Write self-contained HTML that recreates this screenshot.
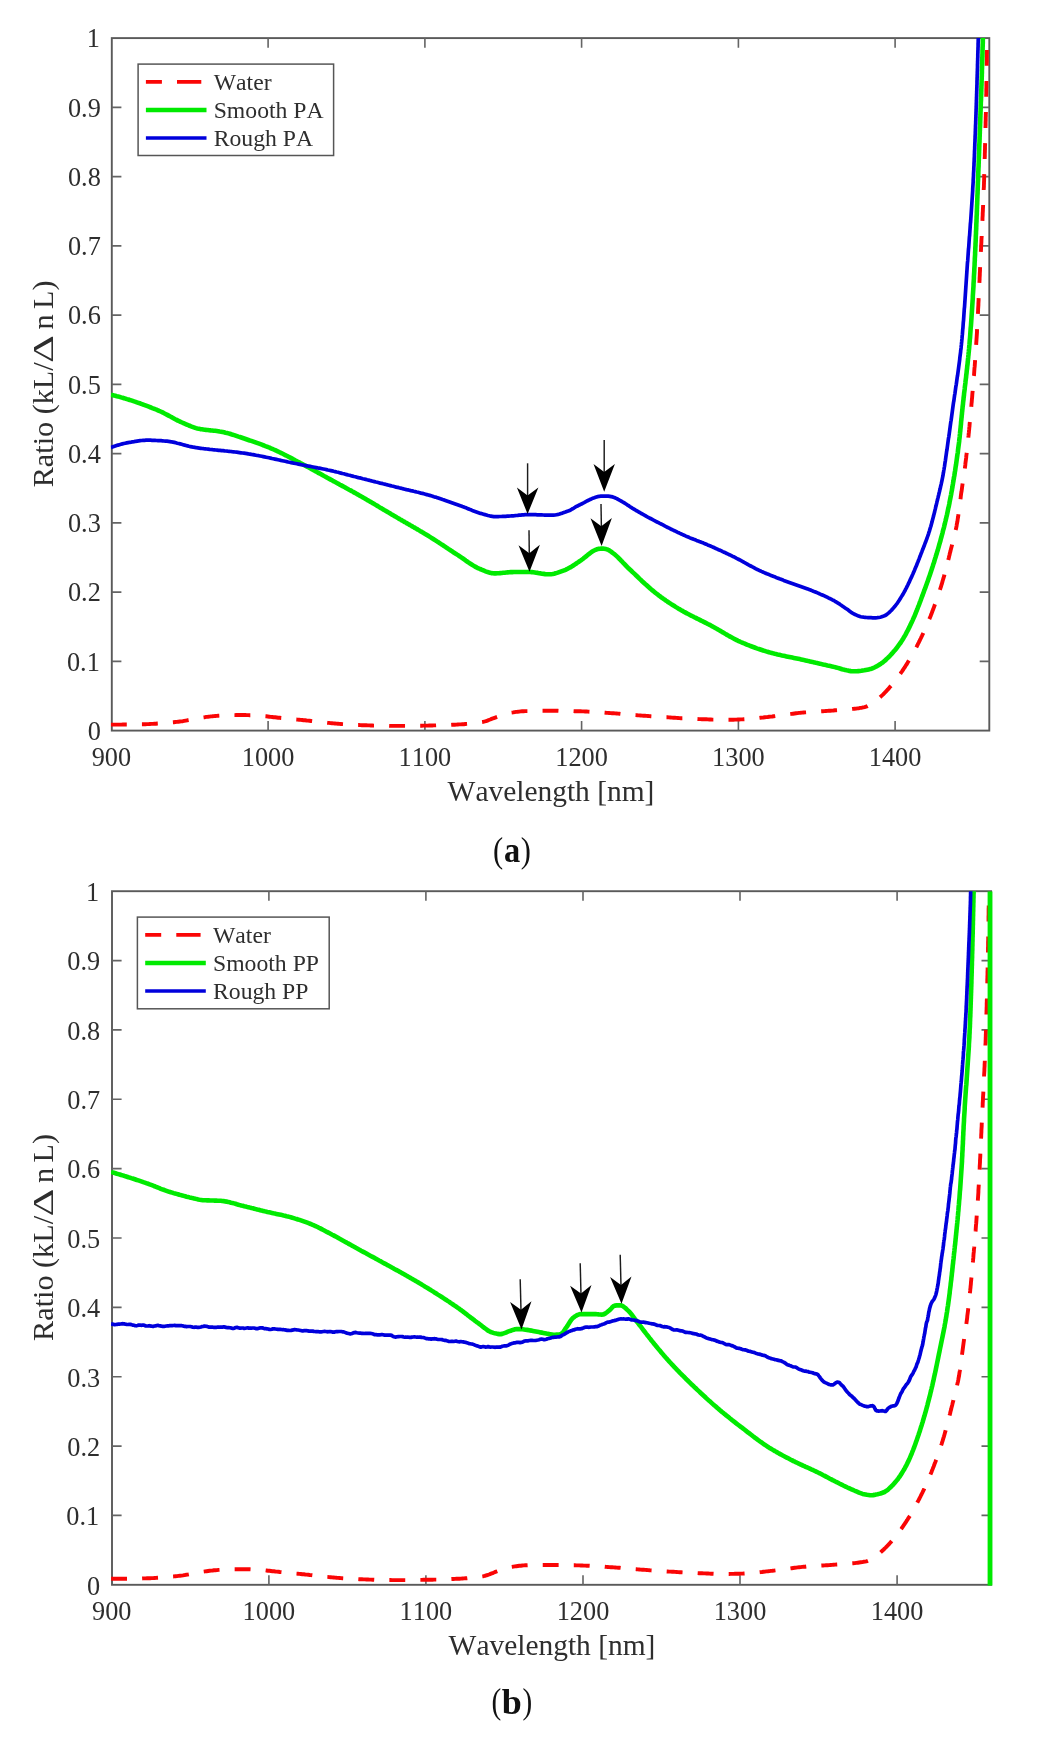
<!DOCTYPE html>
<html lang="en">
<head>
<meta charset="utf-8">
<title>Ratio vs wavelength</title>
<style>
html,body{margin:0;padding:0;background:#fff;}
body{width:1046px;height:1750px;overflow:hidden;font-family:"Liberation Serif",serif;}
svg{display:block;will-change:transform;}
svg text{font-kerning:none;}
</style>
</head>
<body>
<svg width="1046" height="1750" viewBox="0 0 1046 1750" font-family="'Liberation Serif', serif">
<clipPath id="clipA"><rect x="110.8" y="38.1" width="880.1" height="693.5"/></clipPath>
<rect x="111.8" y="38.1" width="877.5" height="692.5" fill="none" stroke="#5a5a5a" stroke-width="1.9"/>
<path d="M268.1,730.6v-9.6M268.1,38.1v9.6M424.9,730.6v-9.6M424.9,38.1v9.6M581.6,730.6v-9.6M581.6,38.1v9.6M738.4,730.6v-9.6M738.4,38.1v9.6M895.1,730.6v-9.6M895.1,38.1v9.6M111.8,661.4h9.6M989.3,661.4h-9.6M111.8,592.1h9.6M989.3,592.1h-9.6M111.8,522.9h9.6M989.3,522.9h-9.6M111.8,453.6h9.6M989.3,453.6h-9.6M111.8,384.4h9.6M989.3,384.4h-9.6M111.8,315.1h9.6M989.3,315.1h-9.6M111.8,245.9h9.6M989.3,245.9h-9.6M111.8,176.6h9.6M989.3,176.6h-9.6M111.8,107.4h9.6M989.3,107.4h-9.6" stroke="#646464" stroke-width="1.6" fill="none"/>
<g font-size="26.3" fill="#2e2e2e">
<text x="111.4" y="766.0" text-anchor="middle">900</text>
<text x="268.1" y="766.0" text-anchor="middle">1000</text>
<text x="424.9" y="766.0" text-anchor="middle">1100</text>
<text x="581.6" y="766.0" text-anchor="middle">1200</text>
<text x="738.4" y="766.0" text-anchor="middle">1300</text>
<text x="895.1" y="766.0" text-anchor="middle">1400</text>
<text x="100.8" y="739.9" text-anchor="end">0</text>
<text x="99.8" y="670.6" text-anchor="end">0.1</text>
<text x="100.8" y="601.4" text-anchor="end">0.2</text>
<text x="100.8" y="532.1" text-anchor="end">0.3</text>
<text x="100.8" y="462.9" text-anchor="end">0.4</text>
<text x="100.8" y="393.7" text-anchor="end">0.5</text>
<text x="100.8" y="324.4" text-anchor="end">0.6</text>
<text x="100.8" y="255.2" text-anchor="end">0.7</text>
<text x="100.8" y="185.9" text-anchor="end">0.8</text>
<text x="100.8" y="116.7" text-anchor="end">0.9</text>
<text x="99.8" y="47.4" text-anchor="end">1</text>
</g>
<text x="551.0" y="801.0" font-size="29.45" fill="#2e2e2e" text-anchor="middle">Wavelength [nm]</text>
<g transform="translate(53.3,384.4) rotate(-90)" font-size="30.2" fill="#2e2e2e"><text x="-102.9" y="0">Ratio (kL/</text><text transform="translate(21.5,0) scale(1.44,1)" x="0" y="0">&#916;</text><text x="55.0" y="0">n</text><text x="75.5" y="0">L)</text></g>
<g clip-path="url(#clipA)" fill="none" stroke-linejoin="round">
<polyline points="110.9,724.6 112.4,724.6 113.9,724.6 115.4,724.6 116.9,724.6 118.4,724.6 119.9,724.6 121.4,724.6 122.9,724.5 124.4,724.5 125.9,724.5 127.4,724.5 128.9,724.5 130.4,724.5 131.9,724.4 133.4,724.4 134.9,724.4 136.4,724.4 137.9,724.4 139.4,724.3 140.9,724.3 142.4,724.3 143.9,724.2 145.4,724.2 146.9,724.1 148.4,724.1 149.9,724.0 151.4,723.9 152.9,723.9 154.4,723.8 155.9,723.7 157.4,723.5 158.9,723.4 160.4,723.3 161.9,723.2 163.4,723.0 164.9,722.9 166.3,722.8 167.8,722.7 169.3,722.5 170.8,722.4 172.3,722.3 173.8,722.2 175.3,722.0 176.8,721.9 178.3,721.7 179.8,721.5 181.3,721.4 182.8,721.2 184.2,720.9 185.7,720.6 187.2,720.3 188.7,720.0 190.1,719.7 191.6,719.4 193.1,719.1 194.5,718.9 196.0,718.6 197.5,718.4 199.0,718.1 200.5,717.9 201.9,717.6 203.4,717.4 204.9,717.2 206.4,716.9 207.9,716.8 209.4,716.6 210.9,716.4 212.4,716.3 213.8,716.1 215.3,716.0 216.8,715.9 218.3,715.7 219.8,715.6 221.3,715.5 222.8,715.4 224.3,715.4 225.8,715.3 227.3,715.3 228.8,715.2 230.3,715.2 231.8,715.1 233.3,715.1 234.8,715.1 236.3,715.0 237.8,715.0 239.3,715.0 240.8,715.0 242.3,715.0 243.8,715.0 245.3,715.0 246.8,715.1 248.3,715.1 249.8,715.2 251.3,715.2 252.8,715.3 254.3,715.4 255.8,715.5 257.3,715.6 258.8,715.6 260.3,715.8 261.8,715.9 263.3,716.0 264.8,716.2 266.3,716.3 267.8,716.5 269.3,716.7 270.7,716.9 272.2,717.0 273.7,717.2 275.2,717.3 276.7,717.5 278.2,717.7 279.7,717.8 281.2,718.0 282.7,718.1 284.2,718.3 285.7,718.5 287.2,718.6 288.6,718.8 290.1,718.9 291.6,719.0 293.1,719.2 294.6,719.3 296.1,719.5 297.6,719.6 299.1,719.7 300.6,719.9 302.1,720.0 303.6,720.2 305.1,720.3 306.6,720.5 308.1,720.6 309.5,720.8 311.0,721.0 312.5,721.2 314.0,721.3 315.5,721.5 317.0,721.7 318.5,721.8 320.0,722.0 321.5,722.2 323.0,722.3 324.5,722.5 325.9,722.6 327.4,722.8 328.9,722.9 330.4,723.1 331.9,723.2 333.4,723.4 334.9,723.5 336.4,723.6 337.9,723.7 339.4,723.9 340.9,724.0 342.4,724.1 343.9,724.2 345.4,724.3 346.9,724.4 348.4,724.5 349.9,724.6 351.4,724.7 352.9,724.8 354.4,724.8 355.9,724.9 357.4,725.0 358.9,725.0 360.4,725.1 361.9,725.2 363.3,725.2 364.8,725.3 366.3,725.3 367.8,725.4 369.3,725.4 370.8,725.5 372.3,725.5 373.8,725.6 375.3,725.6 376.8,725.6 378.3,725.7 379.8,725.7 381.3,725.7 382.8,725.8 384.3,725.8 385.8,725.8 387.3,725.8 388.8,725.8 390.3,725.9 391.8,725.9 393.3,725.9 394.8,725.9 396.3,725.9 397.8,725.9 399.3,725.9 400.8,725.9 402.3,725.9 403.8,725.9 405.3,725.9 406.8,725.9 408.3,725.9 409.8,725.8 411.3,725.8 412.8,725.8 414.3,725.8 415.8,725.8 417.3,725.7 418.8,725.7 420.3,725.7 421.8,725.7 423.3,725.6 424.8,725.6 426.3,725.6 427.8,725.6 429.3,725.5 430.8,725.5 432.3,725.5 433.8,725.4 435.3,725.4 436.8,725.3 438.3,725.3 439.8,725.3 441.3,725.2 442.8,725.2 444.3,725.1 445.8,725.1 447.3,725.0 448.8,724.9 450.3,724.9 451.8,724.8 453.3,724.7 454.8,724.7 456.3,724.6 457.8,724.5 459.3,724.4 460.8,724.4 462.3,724.3 463.8,724.2 465.3,724.0 466.8,723.9 468.3,723.8 469.8,723.6 471.3,723.5 472.8,723.3 474.3,723.2 475.8,723.0 477.3,722.8 478.8,722.6 480.2,722.4 481.7,722.1 483.2,721.9 484.6,721.5 486.0,721.1 487.4,720.6 488.8,720.0 490.2,719.5 491.6,718.9 493.1,718.3 494.5,717.8 495.9,717.3 497.3,716.8 498.7,716.3 500.2,715.8 501.6,715.3 503.0,714.8 504.5,714.4 505.9,713.9 507.3,713.5 508.8,713.1 510.2,712.8 511.7,712.6 513.2,712.4 514.7,712.1 516.1,711.9 517.6,711.8 519.1,711.6 520.6,711.4 522.1,711.3 523.6,711.2 525.1,711.1 526.6,711.1 528.1,711.1 529.6,711.0 531.1,711.0 532.6,711.0 534.1,710.9 535.6,710.9 537.1,710.9 538.6,710.9 540.1,710.9 541.6,710.8 543.1,710.8 544.6,710.8 546.1,710.8 547.6,710.8 549.1,710.8 550.6,710.8 552.1,710.8 553.6,710.8 555.1,710.8 556.6,710.8 558.1,710.8 559.6,710.9 561.1,710.9 562.6,710.9 564.1,710.9 565.6,711.0 567.1,711.0 568.6,711.0 570.1,711.1 571.6,711.1 573.1,711.1 574.6,711.2 576.1,711.2 577.6,711.3 579.1,711.3 580.6,711.3 582.1,711.4 583.6,711.4 585.1,711.5 586.6,711.5 588.1,711.6 589.6,711.7 591.1,711.8 592.6,711.8 594.1,711.9 595.6,712.0 597.1,712.1 598.6,712.2 600.1,712.3 601.6,712.4 603.1,712.5 604.6,712.6 606.1,712.8 607.6,712.9 609.1,713.0 610.6,713.1 612.1,713.2 613.6,713.3 615.1,713.4 616.6,713.5 618.1,713.6 619.5,713.7 621.0,713.9 622.5,714.0 624.0,714.1 625.5,714.2 627.0,714.4 628.5,714.5 630.0,714.6 631.5,714.8 633.0,714.9 634.5,715.0 636.0,715.1 637.5,715.3 639.0,715.4 640.5,715.5 642.0,715.6 643.5,715.7 645.0,715.8 646.5,715.9 648.0,716.0 649.5,716.1 650.9,716.3 652.4,716.4 653.9,716.5 655.4,716.6 656.9,716.7 658.4,716.8 659.9,716.9 661.4,717.0 662.9,717.1 664.4,717.2 665.9,717.3 667.4,717.3 668.9,717.4 670.4,717.5 671.9,717.6 673.4,717.7 674.9,717.8 676.4,717.9 677.9,718.0 679.4,718.1 680.9,718.2 682.4,718.2 683.9,718.3 685.4,718.4 686.9,718.5 688.4,718.6 689.9,718.6 691.4,718.7 692.9,718.8 694.4,718.9 695.9,718.9 697.4,719.0 698.9,719.1 700.4,719.1 701.9,719.2 703.4,719.2 704.9,719.3 706.4,719.3 707.9,719.4 709.4,719.5 710.9,719.5 712.4,719.6 713.9,719.6 715.4,719.7 716.9,719.7 718.4,719.7 719.9,719.8 721.4,719.8 722.9,719.8 724.4,719.8 725.9,719.8 727.4,719.8 728.9,719.8 730.4,719.7 731.9,719.7 733.4,719.7 734.9,719.6 736.4,719.6 737.9,719.5 739.4,719.5 740.8,719.4 742.3,719.4 743.8,719.3 745.3,719.2 746.8,719.1 748.3,719.0 749.8,718.9 751.3,718.7 752.8,718.6 754.3,718.5 755.8,718.3 757.3,718.1 758.8,718.0 760.3,717.8 761.8,717.6 763.3,717.5 764.8,717.3 766.2,717.1 767.7,717.0 769.2,716.8 770.7,716.6 772.2,716.5 773.7,716.3 775.2,716.1 776.7,715.9 778.2,715.7 779.7,715.5 781.1,715.3 782.6,715.1 784.1,714.9 785.6,714.7 787.1,714.5 788.6,714.3 790.1,714.1 791.5,713.9 793.0,713.7 794.5,713.5 796.0,713.3 797.5,713.1 799.0,712.9 800.5,712.8 802.0,712.6 803.5,712.5 805.0,712.4 806.4,712.3 807.9,712.2 809.4,712.0 810.9,711.9 812.4,711.8 813.9,711.8 815.4,711.7 816.9,711.6 818.4,711.5 819.9,711.4 821.4,711.3 822.9,711.2 824.4,711.1 825.9,711.0 827.4,710.9 828.9,710.8 830.4,710.7 831.9,710.6 833.4,710.5 834.9,710.3 836.4,710.2 837.9,710.1 839.4,710.0 841.0,709.9 842.5,709.8 844.0,709.7 845.5,709.6 847.1,709.5 848.6,709.3 850.1,709.2 851.6,709.1 853.1,708.9 854.6,708.7 856.1,708.6 857.5,708.4 859.0,708.2 860.4,707.9 861.9,707.7 863.3,707.4 864.6,707.1 866.0,706.7 867.4,706.1 868.7,705.4 870.1,704.6 871.4,703.7 872.7,702.9 873.9,702.0 875.2,701.1 876.4,700.2 877.5,699.4 878.7,698.4 879.8,697.5 881.0,696.4 882.1,695.4 883.2,694.4 884.2,693.3 885.3,692.2 886.3,691.1 887.3,690.0 888.4,688.9 889.3,687.8 890.3,686.6 891.3,685.5 892.3,684.4 893.2,683.2 894.2,682.0 895.1,680.9 896.0,679.7 896.9,678.5 897.8,677.2 898.7,676.0 899.6,674.8 900.5,673.6 901.3,672.3 902.2,671.1 903.0,669.9 903.8,668.6 904.7,667.4 905.5,666.1 906.3,664.8 907.1,663.6 907.8,662.3 908.6,661.0 909.4,659.7 910.2,658.4 910.9,657.1 911.7,655.8 912.4,654.5 913.1,653.2 913.9,651.9 914.6,650.6 915.3,649.2 916.0,647.9 916.7,646.6 917.4,645.2 918.0,643.9 918.7,642.6 919.4,641.2 920.0,639.9 920.7,638.5 921.3,637.2 922.0,635.8 922.6,634.5 923.3,633.1 923.9,631.7 924.5,630.4 925.1,629.0 925.7,627.6 926.3,626.3 926.9,624.9 927.5,623.5 928.1,622.1 928.7,620.7 929.2,619.3 929.8,617.9 930.4,616.5 930.9,615.2 931.5,613.8 932.0,612.4 932.5,611.0 933.1,609.6 933.6,608.2 934.1,606.8 934.6,605.3 935.1,603.9 935.7,602.5 936.2,601.1 936.7,599.7 937.1,598.3 937.6,596.9 938.1,595.4 938.6,594.0 939.1,592.6 939.5,591.2 940.0,589.7 940.4,588.3 940.9,586.9 941.3,585.4 941.8,584.0 942.2,582.6 942.6,581.1 943.0,579.7 943.5,578.2 943.9,576.8 944.3,575.4 944.6,573.9 945.0,572.5 945.4,571.0 945.8,569.6 946.2,568.1 946.6,566.6 946.9,565.2 947.3,563.7 947.7,562.3 948.0,560.8 948.4,559.4 948.8,557.9 949.1,556.5 949.5,555.0 949.8,553.5 950.2,552.1 950.6,550.6 950.9,549.2 951.3,547.7 951.7,546.3 952.1,544.8 952.4,543.4 952.8,541.9 953.2,540.5 953.6,539.0 953.9,537.5 954.3,536.1 954.6,534.6 955.0,533.2 955.3,531.7 955.6,530.2 956.0,528.8 956.3,527.3 956.6,525.8 956.8,524.4 957.1,522.9 957.4,521.4 957.6,519.9 957.8,518.5 958.1,517.0 958.3,515.5 958.5,514.0 958.7,512.5 958.9,511.1 959.1,509.6 959.3,508.1 959.5,506.6 959.7,505.1 959.9,503.6 960.1,502.1 960.3,500.6 960.5,499.1 960.7,497.6 960.8,496.2 961.0,494.7 961.2,493.2 961.5,491.7 961.7,490.2 961.9,488.7 962.1,487.2 962.3,485.8 962.5,484.3 962.7,482.8 963.0,481.3 963.2,479.8 963.4,478.3 963.6,476.9 963.8,475.4 964.0,473.9 964.2,472.4 964.5,470.9 964.7,469.4 964.9,467.9 965.1,466.5 965.3,465.0 965.4,463.5 965.6,462.0 965.8,460.5 966.0,459.0 966.2,457.5 966.3,456.0 966.5,454.5 966.7,453.1 966.8,451.6 967.0,450.1 967.2,448.6 967.3,447.1 967.5,445.6 967.7,444.1 967.8,442.6 968.0,441.1 968.1,439.6 968.3,438.1 968.4,436.6 968.6,435.2 968.7,433.7 968.9,432.2 969.0,430.7 969.2,429.2 969.3,427.7 969.5,426.2 969.6,424.7 969.7,423.2 969.9,421.7 970.0,420.2 970.2,418.7 970.3,417.2 970.4,415.7 970.6,414.2 970.7,412.8 970.8,411.3 971.0,409.8 971.1,408.3 971.3,406.8 971.4,405.3 971.5,403.8 971.7,402.3 971.8,400.8 971.9,399.3 972.1,397.8 972.2,396.3 972.3,394.8 972.4,393.3 972.6,391.8 972.7,390.3 972.8,388.8 973.0,387.3 973.1,385.9 973.2,384.4 973.3,382.9 973.5,381.4 973.6,379.9 973.7,378.4 973.8,376.9 974.0,375.4 974.1,373.9 974.2,372.4 974.3,370.9 974.4,369.4 974.5,367.9 974.7,366.4 974.8,364.9 974.9,363.4 975.0,361.9 975.1,360.4 975.2,358.9 975.3,357.4 975.4,355.9 975.5,354.4 975.6,353.0 975.7,351.5 975.8,350.0 975.9,348.5 976.0,347.0 976.1,345.5 976.2,344.0 976.3,342.5 976.4,341.0 976.5,339.5 976.6,338.0 976.7,336.5 976.8,335.0 976.9,333.5 977.0,332.0 977.0,330.5 977.1,329.0 977.2,327.5 977.3,326.0 977.4,324.5 977.5,323.0 977.5,321.5 977.6,320.0 977.7,318.5 977.8,317.0 977.8,315.5 977.9,314.0 978.0,312.5 978.1,311.0 978.1,309.5 978.2,308.0 978.3,306.5 978.4,305.0 978.4,303.5 978.5,302.0 978.6,300.5 978.6,299.0 978.7,297.5 978.8,296.0 978.9,294.5 978.9,293.0 979.0,291.5 979.1,290.0 979.1,288.5 979.2,287.1 979.3,285.6 979.3,284.1 979.4,282.6 979.5,281.1 979.6,279.6 979.6,278.1 979.7,276.6 979.8,275.1 979.8,273.6 979.9,272.1 980.0,270.6 980.0,269.1 980.1,267.6 980.2,266.1 980.3,264.6 980.3,263.1 980.4,261.6 980.5,260.1 980.6,258.6 980.6,257.1 980.7,255.6 980.8,254.1 980.8,252.6 980.9,251.1 981.0,249.6 981.1,248.1 981.1,246.6 981.2,245.1 981.3,243.6 981.4,242.1 981.4,240.6 981.5,239.1 981.6,237.6 981.7,236.1 981.7,234.6 981.8,233.1 981.9,231.6 982.0,230.1 982.0,228.6 982.1,227.1 982.2,225.6 982.2,224.1 982.3,222.6 982.4,221.1 982.5,219.6 982.5,218.1 982.6,216.6 982.7,215.1 982.7,213.6 982.8,212.1 982.9,210.6 982.9,209.1 983.0,207.6 983.1,206.1 983.1,204.6 983.2,203.1 983.3,201.6 983.3,200.1 983.4,198.6 983.4,197.1 983.5,195.6 983.6,194.1 983.6,192.6 983.7,191.2 983.7,189.7 983.8,188.2 983.9,186.7 983.9,185.2 984.0,183.7 984.0,182.2 984.1,180.7 984.1,179.2 984.2,177.7 984.2,176.2 984.2,174.7 984.3,173.2 984.3,171.7 984.4,170.2 984.4,168.7 984.5,167.2 984.5,165.7 984.6,164.2 984.6,162.7 984.6,161.2 984.7,159.7 984.7,158.2 984.8,156.7 984.8,155.2 984.8,153.7 984.9,152.2 984.9,150.7 985.0,149.2 985.0,147.7 985.0,146.2 985.1,144.7 985.1,143.2 985.2,141.7 985.2,140.2 985.2,138.7 985.3,137.2 985.3,135.7 985.4,134.2 985.4,132.7 985.4,131.2 985.5,129.7 985.5,128.2 985.5,126.7 985.6,125.2 985.6,123.7 985.6,122.2 985.7,120.7 985.7,119.2 985.7,117.7 985.8,116.2 985.8,114.7 985.9,113.2 985.9,111.7 985.9,110.2 985.9,108.7 986.0,107.2 986.0,105.7 986.0,104.2 986.1,102.7 986.1,101.2 986.1,99.7 986.2,98.2 986.2,96.7 986.2,95.2 986.3,93.7 986.3,92.2 986.3,90.7 986.3,89.2 986.4,87.7 986.4,86.2 986.4,84.7 986.4,83.2 986.5,81.7 986.5,80.2 986.5,78.7 986.5,77.2 986.6,75.7 986.6,74.2 986.6,72.7 986.6,71.2 986.7,69.7 986.7,68.2 986.7,66.7 986.7,65.2 986.7,63.7 986.8,62.2 986.8,60.7 986.8,59.2 986.8,57.7 986.8,56.2 986.8,54.7 986.9,53.2 986.9,51.7 986.9,50.2 986.9,48.7 986.9,47.2 986.9,45.7 987.0,44.2 987.0,42.7 987.0,41.2 987.0,39.7 987.0,38.2 987.0,36.7 987.0,35.2 987.1,33.7 987.1,32.2 987.1,30.7 987.1,29.2 987.1,27.7 987.1,26.2 987.1,24.7 987.1,23.2 987.1,21.7 987.1,20.2 987.2,18.7 987.2,17.2 987.2,15.7 987.2,14.2 987.2,12.7 987.2,11.2 987.2,10.0" stroke="#fa0505" stroke-width="3.9" stroke-dasharray="15.9 15.15"/>
<polyline points="110.9,394.7 112.4,395.1 113.8,395.4 115.3,395.8 116.8,396.2 118.2,396.5 119.7,396.9 121.1,397.4 122.6,397.8 124.0,398.2 125.5,398.6 126.9,399.1 128.4,399.5 129.8,400.0 131.2,400.4 132.7,400.9 134.1,401.4 135.5,401.8 136.9,402.3 138.3,402.8 139.8,403.3 141.2,403.8 142.6,404.3 144.0,404.9 145.4,405.4 146.8,405.9 148.2,406.4 149.6,407.0 151.0,407.5 152.3,408.1 153.7,408.6 155.1,409.2 156.5,409.7 157.9,410.3 159.2,410.9 160.6,411.5 162.0,412.1 163.3,412.8 164.6,413.5 166.0,414.2 167.3,414.9 168.6,415.6 169.9,416.3 171.3,417.0 172.6,417.8 173.9,418.5 175.2,419.2 176.6,419.9 177.9,420.6 179.3,421.2 180.6,421.9 182.0,422.5 183.4,423.1 184.7,423.7 186.1,424.3 187.5,424.9 188.9,425.5 190.3,426.0 191.7,426.6 193.1,427.1 194.5,427.6 196.0,428.1 197.4,428.5 198.8,428.8 200.3,429.1 201.8,429.3 203.2,429.5 204.7,429.7 206.2,429.9 207.7,430.0 209.2,430.2 210.7,430.4 212.2,430.5 213.7,430.7 215.2,430.8 216.7,431.0 218.2,431.2 219.7,431.5 221.1,431.7 222.6,432.0 224.0,432.3 225.5,432.7 227.0,433.0 228.4,433.4 229.8,433.8 231.3,434.3 232.7,434.7 234.2,435.1 235.6,435.6 237.0,436.1 238.5,436.6 239.9,437.0 241.3,437.5 242.7,438.0 244.2,438.5 245.6,439.0 247.0,439.5 248.4,440.0 249.8,440.5 251.3,440.9 252.7,441.4 254.1,441.9 255.5,442.4 256.9,442.9 258.4,443.4 259.8,443.9 261.2,444.4 262.6,445.0 264.0,445.5 265.4,446.1 266.8,446.6 268.2,447.2 269.6,447.7 270.9,448.3 272.3,448.9 273.7,449.5 275.1,450.1 276.4,450.7 277.8,451.4 279.1,452.0 280.5,452.7 281.8,453.3 283.2,454.0 284.5,454.7 285.8,455.4 287.2,456.0 288.5,456.7 289.8,457.4 291.2,458.1 292.5,458.8 293.8,459.6 295.1,460.3 296.5,461.0 297.8,461.7 299.1,462.4 300.4,463.1 301.8,463.8 303.1,464.5 304.4,465.2 305.7,465.9 307.1,466.6 308.4,467.3 309.7,468.0 311.0,468.7 312.3,469.5 313.6,470.2 315.0,470.9 316.3,471.6 317.6,472.4 318.9,473.1 320.2,473.8 321.5,474.5 322.8,475.3 324.1,476.0 325.5,476.7 326.8,477.5 328.1,478.2 329.4,478.9 330.7,479.6 332.0,480.3 333.3,481.1 334.7,481.8 336.0,482.5 337.3,483.2 338.6,483.9 339.9,484.7 341.3,485.4 342.6,486.1 343.9,486.8 345.2,487.5 346.5,488.3 347.8,489.0 349.1,489.7 350.5,490.4 351.8,491.1 353.1,491.9 354.4,492.6 355.7,493.3 357.0,494.1 358.3,494.8 359.6,495.6 360.9,496.3 362.2,497.0 363.5,497.8 364.8,498.5 366.1,499.3 367.4,500.1 368.7,500.8 370.0,501.6 371.3,502.3 372.6,503.1 373.9,503.8 375.2,504.6 376.5,505.4 377.8,506.1 379.0,506.9 380.3,507.7 381.6,508.4 382.9,509.2 384.2,510.0 385.5,510.7 386.8,511.5 388.1,512.3 389.4,513.0 390.7,513.8 391.9,514.6 393.2,515.3 394.5,516.1 395.8,516.8 397.1,517.6 398.4,518.4 399.7,519.1 401.0,519.9 402.3,520.6 403.6,521.4 404.9,522.1 406.2,522.9 407.5,523.6 408.8,524.4 410.1,525.1 411.4,525.9 412.7,526.6 414.0,527.4 415.3,528.1 416.6,528.9 417.9,529.6 419.2,530.4 420.5,531.2 421.8,531.9 423.1,532.7 424.3,533.5 425.6,534.2 426.9,535.0 428.2,535.8 429.5,536.6 430.7,537.4 432.0,538.2 433.3,539.0 434.5,539.8 435.8,540.6 437.0,541.4 438.3,542.2 439.6,543.1 440.8,543.9 442.1,544.7 443.3,545.5 444.6,546.4 445.8,547.2 447.1,548.0 448.3,548.9 449.6,549.7 450.8,550.5 452.1,551.3 453.3,552.2 454.6,553.0 455.8,553.8 457.1,554.6 458.4,555.4 459.6,556.3 460.9,557.1 462.1,558.0 463.4,558.8 464.6,559.7 465.8,560.6 467.1,561.5 468.3,562.3 469.6,563.2 470.9,564.0 472.1,564.8 473.4,565.6 474.7,566.4 476.0,567.1 477.3,567.8 478.6,568.4 480.0,569.0 481.3,569.5 482.7,570.1 484.1,570.7 485.6,571.3 487.0,571.8 488.5,572.3 489.9,572.7 491.4,573.1 492.9,573.3 494.3,573.4 495.8,573.4 497.3,573.3 498.7,573.2 500.2,573.1 501.7,573.0 503.2,572.8 504.7,572.7 506.2,572.5 507.7,572.4 509.2,572.3 510.8,572.1 512.3,572.1 513.8,572.0 515.3,572.0 516.8,572.0 518.3,572.0 519.8,572.0 521.3,572.0 522.8,572.0 524.3,572.0 525.8,572.0 527.3,572.0 528.8,572.0 530.3,572.0 531.8,572.1 533.3,572.3 534.8,572.5 536.2,572.7 537.7,572.9 539.2,573.2 540.7,573.4 542.2,573.7 543.7,573.9 545.2,574.1 546.7,574.2 548.1,574.3 549.6,574.3 551.1,574.2 552.6,574.0 554.1,573.7 555.5,573.3 557.0,572.9 558.5,572.4 559.9,571.9 561.3,571.4 562.7,570.9 564.1,570.4 565.5,569.8 566.8,569.2 568.1,568.5 569.4,567.8 570.8,567.1 572.0,566.3 573.3,565.5 574.6,564.6 575.9,563.8 577.1,562.9 578.4,562.1 579.6,561.2 580.9,560.4 582.1,559.5 583.3,558.6 584.5,557.6 585.7,556.7 586.8,555.7 588.0,554.7 589.2,553.8 590.4,552.9 591.6,552.0 592.8,551.2 594.1,550.5 595.5,549.9 596.9,549.3 598.3,548.9 599.8,548.7 601.3,548.6 602.8,548.6 604.3,548.8 605.8,549.1 607.2,549.4 608.6,550.0 609.9,550.9 611.1,551.7 612.3,552.6 613.5,553.5 614.7,554.4 615.8,555.4 616.9,556.4 618.0,557.4 619.0,558.5 620.1,559.5 621.1,560.6 622.2,561.7 623.2,562.8 624.3,563.9 625.3,565.0 626.4,566.1 627.4,567.2 628.5,568.3 629.6,569.3 630.7,570.3 631.8,571.3 632.9,572.4 634.0,573.4 635.1,574.4 636.2,575.5 637.3,576.5 638.4,577.6 639.4,578.6 640.5,579.6 641.6,580.7 642.7,581.7 643.8,582.7 644.9,583.7 646.1,584.7 647.2,585.7 648.3,586.7 649.4,587.7 650.5,588.7 651.7,589.7 652.8,590.7 654.0,591.6 655.1,592.6 656.3,593.5 657.5,594.4 658.6,595.3 659.8,596.2 661.0,597.1 662.3,598.0 663.5,598.9 664.7,599.7 665.9,600.6 667.2,601.4 668.4,602.3 669.7,603.1 670.9,603.9 672.2,604.7 673.5,605.5 674.8,606.3 676.0,607.1 677.3,607.9 678.6,608.7 679.9,609.4 681.2,610.2 682.5,610.9 683.8,611.7 685.1,612.4 686.4,613.1 687.7,613.8 689.1,614.5 690.4,615.2 691.7,615.9 693.1,616.5 694.4,617.2 695.8,617.9 697.1,618.6 698.5,619.2 699.8,619.9 701.1,620.6 702.5,621.2 703.8,621.9 705.2,622.6 706.5,623.3 707.8,624.0 709.2,624.6 710.5,625.3 711.8,626.1 713.1,626.8 714.4,627.5 715.8,628.3 717.1,629.0 718.4,629.8 719.7,630.5 721.0,631.3 722.3,632.1 723.6,632.8 724.9,633.6 726.2,634.4 727.5,635.1 728.8,635.9 730.1,636.6 731.4,637.3 732.7,638.0 734.0,638.7 735.3,639.4 736.7,640.1 738.0,640.8 739.4,641.4 740.7,642.0 742.1,642.6 743.5,643.2 744.8,643.7 746.2,644.3 747.6,644.9 749.0,645.4 750.4,646.0 751.8,646.5 753.2,647.0 754.6,647.5 756.1,648.1 757.5,648.6 758.9,649.0 760.3,649.5 761.8,650.0 763.2,650.5 764.6,650.9 766.1,651.4 767.5,651.8 768.9,652.2 770.4,652.6 771.8,653.0 773.3,653.4 774.7,653.8 776.2,654.1 777.6,654.5 779.1,654.8 780.5,655.1 782.0,655.5 783.5,655.8 784.9,656.1 786.4,656.4 787.9,656.7 789.4,657.0 790.8,657.3 792.3,657.6 793.8,657.9 795.3,658.2 796.7,658.5 798.2,658.8 799.7,659.1 801.1,659.4 802.6,659.7 804.1,660.1 805.5,660.4 807.0,660.7 808.5,661.1 809.9,661.4 811.4,661.7 812.8,662.1 814.3,662.4 815.8,662.8 817.2,663.1 818.7,663.4 820.1,663.8 821.6,664.1 823.1,664.5 824.5,664.8 826.0,665.1 827.5,665.5 828.9,665.8 830.4,666.1 831.8,666.4 833.3,666.8 834.8,667.1 836.2,667.5 837.7,667.9 839.2,668.3 840.6,668.7 842.1,669.2 843.5,669.6 845.0,669.9 846.5,670.3 847.9,670.6 849.4,670.9 850.9,671.1 852.4,671.2 853.8,671.3 855.3,671.3 856.8,671.2 858.3,671.1 859.8,671.0 861.3,670.8 862.8,670.5 864.3,670.3 865.8,670.0 867.3,669.7 868.7,669.4 870.2,669.1 871.6,668.7 873.0,668.1 874.4,667.5 875.7,666.8 877.1,666.1 878.4,665.3 879.6,664.5 880.9,663.7 882.1,662.9 883.3,661.9 884.5,661.0 885.6,660.0 886.7,658.9 887.8,657.9 888.9,656.8 889.9,655.8 890.9,654.7 891.9,653.6 892.9,652.5 893.9,651.3 894.9,650.2 895.9,649.0 896.8,647.8 897.7,646.6 898.6,645.4 899.5,644.2 900.4,643.0 901.2,641.7 902.0,640.5 902.8,639.2 903.6,638.0 904.3,636.7 905.1,635.4 905.8,634.1 906.5,632.7 907.2,631.4 907.9,630.1 908.6,628.7 909.3,627.4 909.9,626.0 910.6,624.6 911.2,623.3 911.9,621.9 912.5,620.6 913.1,619.2 913.7,617.8 914.3,616.5 914.9,615.1 915.5,613.7 916.0,612.3 916.6,610.9 917.1,609.5 917.7,608.1 918.2,606.7 918.8,605.3 919.3,603.9 919.8,602.5 920.4,601.1 920.9,599.7 921.4,598.3 921.9,596.9 922.5,595.5 923.0,594.1 923.5,592.7 924.0,591.3 924.5,589.8 925.1,588.4 925.6,587.0 926.1,585.6 926.6,584.2 927.1,582.8 927.6,581.4 928.1,580.0 928.6,578.5 929.1,577.1 929.6,575.7 930.1,574.3 930.5,572.9 931.0,571.4 931.5,570.0 932.0,568.6 932.4,567.2 932.9,565.7 933.3,564.3 933.8,562.9 934.3,561.5 934.7,560.0 935.1,558.6 935.6,557.2 936.0,555.7 936.5,554.3 936.9,552.9 937.3,551.4 937.8,550.0 938.2,548.5 938.6,547.1 939.0,545.7 939.4,544.2 939.8,542.8 940.3,541.3 940.6,539.9 941.0,538.4 941.4,537.0 941.8,535.5 942.2,534.1 942.6,532.6 942.9,531.2 943.3,529.7 943.7,528.3 944.1,526.8 944.4,525.4 944.8,523.9 945.1,522.5 945.5,521.0 945.8,519.5 946.2,518.1 946.5,516.6 946.9,515.1 947.2,513.7 947.5,512.2 947.8,510.8 948.1,509.3 948.4,507.8 948.8,506.4 949.1,504.9 949.4,503.4 949.6,501.9 949.9,500.5 950.2,499.0 950.5,497.5 950.8,496.1 951.1,494.6 951.3,493.1 951.6,491.6 951.9,490.2 952.1,488.7 952.4,487.2 952.6,485.7 952.9,484.2 953.1,482.8 953.4,481.3 953.6,479.8 953.9,478.3 954.1,476.8 954.4,475.4 954.6,473.9 954.8,472.4 955.1,470.9 955.3,469.4 955.5,467.9 955.7,466.5 956.0,465.0 956.2,463.5 956.4,462.0 956.6,460.5 956.8,459.0 957.0,457.6 957.2,456.1 957.4,454.6 957.7,453.1 957.9,451.6 958.0,450.1 958.2,448.6 958.4,447.1 958.6,445.7 958.8,444.2 959.0,442.7 959.2,441.2 959.3,439.7 959.5,438.2 959.7,436.7 959.8,435.2 960.0,433.7 960.1,432.2 960.3,430.8 960.4,429.3 960.6,427.8 960.7,426.3 960.9,424.8 961.0,423.3 961.1,421.8 961.3,420.3 961.4,418.8 961.6,417.3 961.7,415.8 961.9,414.3 962.0,412.8 962.2,411.3 962.3,409.9 962.5,408.4 962.6,406.9 962.8,405.4 963.0,403.9 963.1,402.4 963.3,400.9 963.5,399.4 963.6,397.9 963.8,396.4 964.0,394.9 964.1,393.4 964.3,392.0 964.5,390.5 964.7,389.0 964.8,387.5 965.0,386.0 965.2,384.5 965.4,383.0 965.5,381.5 965.7,380.0 965.9,378.5 966.1,377.1 966.2,375.6 966.4,374.1 966.6,372.6 966.7,371.1 966.9,369.6 967.1,368.1 967.2,366.6 967.4,365.1 967.6,363.6 967.7,362.1 967.9,360.7 968.0,359.2 968.2,357.7 968.3,356.2 968.5,354.7 968.6,353.2 968.8,351.7 968.9,350.2 969.1,348.7 969.2,347.2 969.3,345.7 969.5,344.2 969.6,342.7 969.7,341.2 969.8,339.8 970.0,338.3 970.1,336.8 970.2,335.3 970.3,333.8 970.4,332.3 970.5,330.8 970.6,329.3 970.7,327.8 970.9,326.3 971.0,324.8 971.1,323.3 971.2,321.8 971.3,320.3 971.4,318.8 971.5,317.3 971.6,315.8 971.7,314.3 971.8,312.8 971.9,311.3 972.0,309.8 972.1,308.3 972.2,306.8 972.3,305.3 972.4,303.8 972.5,302.3 972.6,300.9 972.7,299.4 972.8,297.9 972.8,296.4 972.9,294.9 973.0,293.4 973.1,291.9 973.2,290.4 973.3,288.9 973.4,287.4 973.5,285.9 973.5,284.4 973.6,282.9 973.7,281.4 973.8,279.9 973.9,278.4 973.9,276.9 974.0,275.4 974.1,273.9 974.2,272.4 974.3,270.9 974.3,269.4 974.4,267.9 974.5,266.4 974.6,264.9 974.6,263.4 974.7,261.9 974.8,260.4 974.8,258.9 974.9,257.4 975.0,255.9 975.1,254.4 975.1,252.9 975.2,251.4 975.3,249.9 975.3,248.4 975.4,246.9 975.5,245.4 975.5,243.9 975.6,242.4 975.7,240.9 975.7,239.4 975.8,237.9 975.8,236.4 975.9,234.9 976.0,233.4 976.0,231.9 976.1,230.4 976.2,228.9 976.2,227.4 976.3,225.9 976.3,224.4 976.4,222.9 976.5,221.4 976.5,219.9 976.6,218.4 976.6,216.9 976.7,215.5 976.8,214.0 976.8,212.5 976.9,211.0 976.9,209.5 977.0,208.0 977.0,206.5 977.1,205.0 977.2,203.5 977.2,202.0 977.3,200.5 977.3,199.0 977.4,197.5 977.4,196.0 977.5,194.5 977.6,193.0 977.6,191.5 977.7,190.0 977.7,188.5 977.8,187.0 977.8,185.5 977.9,184.0 977.9,182.5 978.0,181.0 978.1,179.5 978.1,178.0 978.2,176.5 978.2,175.0 978.3,173.5 978.3,172.0 978.4,170.5 978.4,169.0 978.5,167.5 978.6,166.0 978.6,164.5 978.7,163.0 978.7,161.5 978.8,160.0 978.8,158.5 978.9,157.0 979.0,155.5 979.0,154.0 979.1,152.5 979.1,151.0 979.2,149.5 979.2,148.0 979.3,146.5 979.3,145.0 979.4,143.5 979.5,142.0 979.5,140.5 979.6,139.0 979.6,137.5 979.7,136.0 979.7,134.5 979.8,133.0 979.8,131.5 979.9,130.0 979.9,128.5 980.0,127.0 980.1,125.5 980.1,124.0 980.2,122.5 980.2,121.0 980.3,119.5 980.3,118.0 980.4,116.5 980.4,115.0 980.5,113.5 980.5,112.0 980.6,110.5 980.6,109.0 980.7,107.5 980.7,106.0 980.8,104.5 980.8,103.0 980.9,101.5 981.0,100.0 981.0,98.5 981.1,97.0 981.1,95.5 981.2,94.0 981.2,92.5 981.3,91.0 981.3,89.5 981.4,88.0 981.4,86.5 981.5,85.0 981.5,83.5 981.6,82.0 981.6,80.5 981.7,79.0 981.7,77.5 981.8,76.0 981.8,74.5 981.9,73.0 981.9,71.5 981.9,70.0 982.0,68.5 982.0,67.0 982.1,65.5 982.1,64.0 982.2,62.5 982.2,61.0 982.3,59.5 982.3,58.0 982.4,56.5 982.4,55.0 982.5,53.5 982.5,52.1 982.5,50.6 982.6,49.1 982.6,47.6 982.7,46.1 982.7,44.6 982.8,43.1 982.8,41.6 982.8,40.1 982.9,38.6 982.9,37.1 983.0,35.6 983.0,34.1 983.0,32.6 983.1,31.1 983.1,29.6 983.2,28.1 983.2,26.6 983.2,25.1 983.3,23.6 983.3,22.1 983.4,20.6 983.4,19.1 983.4,17.6 983.5,16.1 983.5,14.6 983.5,13.1 983.6,11.6 983.6,10.1 983.6,10.0" stroke="#00ea00" stroke-width="4.6"/>
<polyline points="110.9,447.6 112.3,447.1 113.7,446.6 115.2,446.1 116.6,445.6 118.0,445.1 119.5,444.7 120.9,444.3 122.4,443.9 123.8,443.5 125.3,443.2 126.7,442.9 128.2,442.6 129.7,442.3 131.1,442.1 132.6,441.8 134.1,441.6 135.6,441.3 137.1,441.1 138.6,440.9 140.1,440.7 141.6,440.5 143.1,440.4 144.6,440.3 146.0,440.2 147.5,440.2 149.0,440.2 150.5,440.2 152.0,440.3 153.5,440.3 155.0,440.4 156.5,440.5 158.1,440.6 159.6,440.6 161.1,440.7 162.5,440.8 164.0,441.0 165.5,441.1 167.0,441.2 168.5,441.4 170.0,441.6 171.4,441.8 172.9,442.1 174.4,442.4 175.8,442.8 177.3,443.2 178.7,443.5 180.2,443.9 181.7,444.3 183.1,444.7 184.6,445.1 186.0,445.5 187.5,445.9 189.0,446.3 190.4,446.6 191.9,446.9 193.4,447.2 194.8,447.4 196.3,447.7 197.8,447.9 199.3,448.1 200.8,448.3 202.2,448.5 203.7,448.7 205.2,448.8 206.7,449.0 208.2,449.2 209.7,449.4 211.2,449.5 212.7,449.7 214.2,449.8 215.7,450.0 217.2,450.1 218.7,450.3 220.1,450.4 221.6,450.6 223.1,450.7 224.6,450.9 226.1,451.0 227.6,451.2 229.1,451.3 230.6,451.5 232.1,451.7 233.6,451.8 235.1,452.0 236.6,452.2 238.1,452.4 239.5,452.6 241.0,452.8 242.5,453.0 244.0,453.2 245.5,453.4 247.0,453.6 248.4,453.9 249.9,454.1 251.4,454.4 252.9,454.6 254.3,454.9 255.8,455.2 257.3,455.5 258.8,455.7 260.2,456.0 261.7,456.3 263.2,456.6 264.6,456.9 266.1,457.2 267.6,457.5 269.0,457.8 270.5,458.1 272.0,458.5 273.4,458.8 274.9,459.1 276.4,459.4 277.9,459.7 279.3,460.0 280.8,460.4 282.3,460.7 283.7,461.0 285.2,461.3 286.7,461.6 288.1,462.0 289.6,462.3 291.1,462.6 292.5,462.9 294.0,463.2 295.5,463.5 296.9,463.8 298.4,464.1 299.9,464.4 301.3,464.7 302.8,465.0 304.3,465.3 305.8,465.6 307.2,465.9 308.7,466.2 310.2,466.4 311.7,466.7 313.1,467.0 314.6,467.3 316.1,467.6 317.6,467.9 319.0,468.1 320.5,468.4 322.0,468.7 323.4,469.0 324.9,469.3 326.4,469.6 327.8,470.0 329.3,470.3 330.8,470.6 332.2,470.9 333.7,471.3 335.1,471.6 336.6,472.0 338.1,472.3 339.5,472.7 341.0,473.1 342.4,473.5 343.9,473.8 345.3,474.2 346.8,474.6 348.2,475.0 349.7,475.3 351.1,475.7 352.6,476.1 354.0,476.5 355.5,476.8 356.9,477.2 358.4,477.6 359.9,477.9 361.3,478.3 362.8,478.7 364.2,479.0 365.7,479.4 367.1,479.8 368.6,480.1 370.0,480.5 371.5,480.9 372.9,481.2 374.4,481.6 375.9,482.0 377.3,482.3 378.8,482.7 380.2,483.1 381.7,483.4 383.1,483.8 384.6,484.1 386.0,484.5 387.5,484.9 389.0,485.2 390.4,485.6 391.9,486.0 393.3,486.3 394.8,486.7 396.2,487.1 397.7,487.4 399.1,487.8 400.6,488.1 402.1,488.5 403.5,488.9 405.0,489.2 406.4,489.6 407.9,489.9 409.4,490.2 410.8,490.6 412.3,490.9 413.7,491.3 415.2,491.6 416.7,492.0 418.1,492.3 419.6,492.7 421.0,493.1 422.5,493.4 423.9,493.8 425.4,494.2 426.8,494.6 428.3,495.0 429.7,495.4 431.1,495.8 432.6,496.2 434.0,496.7 435.4,497.1 436.9,497.6 438.3,498.0 439.7,498.5 441.2,499.0 442.6,499.5 444.0,499.9 445.4,500.4 446.8,500.9 448.3,501.4 449.7,501.9 451.1,502.4 452.5,502.9 453.9,503.4 455.3,503.9 456.8,504.4 458.2,504.9 459.6,505.4 461.0,505.9 462.4,506.5 463.8,507.0 465.2,507.6 466.6,508.1 468.0,508.7 469.4,509.3 470.8,509.8 472.2,510.4 473.6,510.9 475.0,511.4 476.4,511.9 477.8,512.4 479.2,512.9 480.6,513.4 482.1,513.8 483.5,514.2 485.0,514.6 486.4,515.0 487.9,515.5 489.3,515.8 490.8,516.2 492.3,516.4 493.8,516.6 495.2,516.6 496.7,516.6 498.2,516.6 499.7,516.5 501.2,516.5 502.7,516.4 504.2,516.3 505.7,516.3 507.2,516.2 508.7,516.1 510.2,516.0 511.7,515.9 513.2,515.8 514.7,515.7 516.2,515.5 517.7,515.4 519.2,515.2 520.7,515.1 522.2,514.9 523.7,514.8 525.2,514.7 526.7,514.6 528.2,514.6 529.7,514.6 531.2,514.6 532.7,514.6 534.2,514.7 535.7,514.7 537.2,514.8 538.7,514.8 540.2,514.9 541.7,514.9 543.2,515.0 544.7,515.1 546.2,515.1 547.7,515.1 549.2,515.2 550.7,515.2 552.2,515.2 553.7,515.1 555.1,515.0 556.6,514.7 558.1,514.4 559.6,514.0 561.0,513.5 562.5,513.1 563.9,512.6 565.4,512.1 566.7,511.6 568.1,511.1 569.5,510.5 570.8,509.8 572.1,509.0 573.4,508.3 574.7,507.5 576.0,506.7 577.4,506.0 578.7,505.3 580.0,504.7 581.4,504.0 582.7,503.3 584.1,502.6 585.4,501.9 586.7,501.2 588.0,500.5 589.4,499.8 590.7,499.2 592.1,498.6 593.5,498.1 594.9,497.5 596.4,497.0 597.8,496.6 599.3,496.3 600.8,496.2 602.2,496.1 603.8,496.1 605.3,496.1 606.8,496.1 608.3,496.2 609.8,496.4 611.2,496.6 612.7,496.9 614.1,497.4 615.4,498.0 616.8,498.6 618.1,499.4 619.5,500.2 620.8,500.9 622.1,501.7 623.4,502.4 624.7,503.2 626.0,504.0 627.2,504.8 628.5,505.6 629.7,506.5 631.0,507.3 632.2,508.1 633.5,508.9 634.8,509.7 636.1,510.5 637.4,511.2 638.7,512.0 640.0,512.7 641.3,513.5 642.6,514.2 643.9,514.9 645.2,515.6 646.5,516.4 647.8,517.1 649.2,517.8 650.5,518.5 651.8,519.2 653.1,519.9 654.5,520.6 655.8,521.3 657.1,522.0 658.5,522.7 659.8,523.4 661.1,524.0 662.5,524.7 663.8,525.4 665.1,526.1 666.5,526.8 667.8,527.5 669.2,528.1 670.5,528.8 671.8,529.5 673.2,530.1 674.5,530.8 675.9,531.4 677.2,532.1 678.6,532.7 679.9,533.4 681.3,534.0 682.7,534.6 684.0,535.2 685.4,535.9 686.8,536.5 688.2,537.0 689.5,537.6 690.9,538.2 692.3,538.7 693.7,539.3 695.1,539.8 696.5,540.4 697.9,540.9 699.3,541.5 700.7,542.0 702.1,542.6 703.5,543.1 704.9,543.7 706.3,544.3 707.7,544.9 709.0,545.4 710.4,546.0 711.8,546.6 713.2,547.2 714.5,547.8 715.9,548.5 717.3,549.1 718.6,549.7 720.0,550.3 721.4,550.9 722.7,551.6 724.1,552.2 725.5,552.8 726.8,553.5 728.2,554.1 729.5,554.8 730.9,555.4 732.2,556.1 733.6,556.7 734.9,557.4 736.2,558.1 737.6,558.8 738.9,559.5 740.2,560.2 741.5,560.9 742.8,561.6 744.2,562.4 745.5,563.1 746.8,563.8 748.1,564.6 749.4,565.3 750.7,566.0 752.0,566.7 753.4,567.4 754.7,568.1 756.0,568.8 757.4,569.5 758.7,570.1 760.1,570.8 761.4,571.4 762.8,572.0 764.2,572.6 765.6,573.2 766.9,573.8 768.3,574.3 769.7,574.9 771.1,575.5 772.5,576.0 773.9,576.6 775.3,577.1 776.7,577.7 778.1,578.2 779.5,578.8 780.9,579.3 782.3,579.8 783.7,580.4 785.1,580.9 786.5,581.4 787.9,581.9 789.3,582.4 790.7,582.9 792.2,583.4 793.6,583.9 795.0,584.4 796.4,584.9 797.8,585.4 799.3,585.9 800.7,586.4 802.1,586.9 803.5,587.4 804.9,587.9 806.3,588.4 807.7,588.9 809.1,589.5 810.5,590.0 811.9,590.6 813.3,591.2 814.7,591.7 816.1,592.3 817.5,592.9 818.9,593.5 820.2,594.1 821.6,594.7 823.0,595.3 824.4,595.9 825.7,596.5 827.1,597.1 828.4,597.8 829.8,598.5 831.1,599.1 832.4,599.8 833.8,600.5 835.0,601.3 836.3,602.0 837.6,602.8 838.9,603.6 840.1,604.5 841.3,605.3 842.6,606.2 843.8,607.0 845.1,607.9 846.3,608.7 847.6,609.6 848.8,610.5 850.0,611.4 851.2,612.3 852.5,613.1 853.8,613.8 855.1,614.5 856.5,615.1 857.9,615.7 859.3,616.2 860.7,616.7 862.2,617.0 863.7,617.2 865.1,617.3 866.6,617.5 868.1,617.6 869.6,617.6 871.1,617.7 872.7,617.8 874.2,617.8 875.7,617.8 877.2,617.7 878.7,617.5 880.2,617.2 881.7,616.8 883.1,616.3 884.4,615.8 885.7,615.2 886.9,614.4 888.1,613.4 889.3,612.4 890.4,611.3 891.5,610.2 892.5,609.0 893.5,608.0 894.4,606.8 895.4,605.7 896.3,604.5 897.2,603.3 898.1,602.0 898.9,600.8 899.7,599.5 900.5,598.2 901.3,596.9 902.1,595.6 902.9,594.4 903.6,593.1 904.3,591.8 905.1,590.5 905.7,589.1 906.4,587.8 907.1,586.4 907.8,585.1 908.4,583.7 909.1,582.4 909.7,581.0 910.3,579.6 910.9,578.3 911.6,576.9 912.2,575.5 912.8,574.2 913.4,572.8 914.0,571.4 914.6,570.0 915.1,568.7 915.7,567.3 916.3,565.9 916.9,564.5 917.4,563.1 918.0,561.7 918.5,560.3 919.1,558.9 919.6,557.5 920.2,556.1 920.7,554.7 921.2,553.3 921.8,551.9 922.3,550.5 922.9,549.1 923.4,547.7 924.0,546.3 924.5,544.9 925.0,543.5 925.6,542.1 926.1,540.7 926.6,539.3 927.1,537.9 927.6,536.5 928.1,535.1 928.6,533.6 929.0,532.2 929.5,530.8 929.9,529.3 930.3,527.9 930.8,526.5 931.2,525.0 931.6,523.6 932.0,522.1 932.3,520.7 932.7,519.2 933.1,517.8 933.5,516.3 933.8,514.9 934.2,513.4 934.6,512.0 934.9,510.5 935.3,509.0 935.6,507.6 936.0,506.1 936.3,504.7 936.7,503.2 937.0,501.7 937.4,500.3 937.7,498.8 938.1,497.4 938.4,495.9 938.8,494.4 939.1,493.0 939.5,491.5 939.8,490.1 940.2,488.6 940.5,487.1 940.8,485.7 941.2,484.2 941.5,482.7 941.8,481.3 942.1,479.8 942.4,478.3 942.7,476.9 943.0,475.4 943.2,473.9 943.5,472.4 943.7,471.0 944.0,469.5 944.2,468.0 944.5,466.5 944.7,465.1 944.9,463.6 945.1,462.1 945.4,460.6 945.6,459.1 945.8,457.6 946.0,456.1 946.2,454.7 946.4,453.2 946.6,451.7 946.9,450.2 947.1,448.7 947.3,447.2 947.5,445.7 947.7,444.3 947.9,442.8 948.1,441.3 948.3,439.8 948.5,438.3 948.8,436.8 949.0,435.3 949.2,433.9 949.4,432.4 949.6,430.9 949.8,429.4 950.0,427.9 950.2,426.4 950.4,424.9 950.6,423.5 950.8,422.0 951.1,420.5 951.3,419.0 951.5,417.5 951.7,416.0 951.9,414.5 952.1,413.1 952.3,411.6 952.5,410.1 952.7,408.6 952.9,407.1 953.1,405.6 953.3,404.1 953.5,402.7 953.8,401.2 954.0,399.7 954.2,398.2 954.4,396.7 954.6,395.2 954.9,393.8 955.1,392.3 955.3,390.8 955.5,389.3 955.7,387.8 955.9,386.3 956.2,384.8 956.4,383.4 956.6,381.9 956.8,380.4 957.0,378.9 957.2,377.4 957.5,375.9 957.7,374.4 957.9,373.0 958.1,371.5 958.3,370.0 958.5,368.5 958.7,367.0 958.9,365.5 959.1,364.0 959.3,362.5 959.5,361.1 959.7,359.6 959.8,358.1 960.0,356.6 960.2,355.1 960.4,353.6 960.6,352.1 960.7,350.6 960.9,349.2 961.1,347.7 961.2,346.2 961.4,344.7 961.5,343.2 961.7,341.7 961.8,340.2 962.0,338.7 962.1,337.2 962.2,335.7 962.4,334.2 962.5,332.7 962.6,331.3 962.7,329.8 962.9,328.3 963.0,326.8 963.1,325.3 963.2,323.8 963.3,322.3 963.5,320.8 963.6,319.3 963.7,317.8 963.8,316.3 963.9,314.8 964.0,313.3 964.1,311.8 964.2,310.3 964.3,308.8 964.5,307.3 964.6,305.8 964.7,304.3 964.8,302.8 964.9,301.3 965.0,299.8 965.1,298.3 965.2,296.8 965.3,295.4 965.4,293.9 965.5,292.4 965.6,290.9 965.7,289.4 965.8,287.9 965.9,286.4 966.0,284.9 966.1,283.4 966.2,281.9 966.3,280.4 966.4,278.9 966.5,277.4 966.6,275.9 966.7,274.4 966.8,272.9 966.9,271.4 967.0,269.9 967.1,268.4 967.2,266.9 967.3,265.4 967.4,263.9 967.5,262.4 967.7,260.9 967.8,259.4 967.9,257.9 968.0,256.4 968.1,254.9 968.2,253.4 968.3,251.9 968.4,250.5 968.5,249.0 968.7,247.5 968.8,246.0 968.9,244.5 969.0,243.0 969.1,241.5 969.2,240.0 969.3,238.5 969.4,237.0 969.6,235.5 969.7,234.0 969.8,232.5 969.9,231.0 970.0,229.5 970.1,228.0 970.2,226.5 970.3,225.0 970.4,223.5 970.6,222.0 970.7,220.5 970.8,219.0 970.9,217.5 971.0,216.0 971.1,214.5 971.2,213.0 971.3,211.5 971.4,210.1 971.5,208.6 971.6,207.1 971.7,205.6 971.8,204.1 971.9,202.6 972.0,201.1 972.1,199.6 972.2,198.1 972.3,196.6 972.4,195.1 972.5,193.6 972.6,192.1 972.7,190.6 972.7,189.1 972.8,187.6 972.9,186.1 973.0,184.6 973.1,183.1 973.2,181.6 973.2,180.1 973.3,178.6 973.4,177.1 973.5,175.6 973.5,174.1 973.6,172.6 973.7,171.1 973.8,169.6 973.8,168.1 973.9,166.6 974.0,165.1 974.0,163.6 974.1,162.1 974.2,160.6 974.2,159.1 974.3,157.6 974.4,156.1 974.4,154.6 974.5,153.1 974.5,151.7 974.6,150.2 974.7,148.7 974.7,147.2 974.8,145.7 974.8,144.2 974.9,142.7 975.0,141.2 975.0,139.7 975.1,138.2 975.1,136.7 975.2,135.2 975.3,133.7 975.3,132.2 975.4,130.7 975.4,129.2 975.5,127.7 975.5,126.2 975.6,124.7 975.7,123.2 975.7,121.7 975.8,120.2 975.8,118.7 975.9,117.2 975.9,115.7 976.0,114.2 976.0,112.7 976.1,111.2 976.1,109.7 976.2,108.2 976.2,106.7 976.3,105.2 976.3,103.7 976.4,102.2 976.4,100.7 976.5,99.2 976.5,97.7 976.6,96.2 976.6,94.7 976.7,93.2 976.7,91.7 976.8,90.2 976.8,88.7 976.9,87.2 976.9,85.7 977.0,84.2 977.0,82.7 977.0,81.2 977.1,79.7 977.1,78.2 977.2,76.7 977.2,75.2 977.3,73.7 977.3,72.2 977.4,70.7 977.4,69.2 977.5,67.7 977.5,66.2 977.5,64.7 977.6,63.2 977.6,61.7 977.7,60.2 977.7,58.7 977.8,57.2 977.8,55.7 977.8,54.2 977.9,52.7 977.9,51.2 978.0,49.7 978.0,48.2 978.1,46.7 978.1,45.2 978.1,43.7 978.2,42.2 978.2,40.7 978.3,39.2 978.3,37.7 978.4,36.2 978.4,34.7 978.4,33.2 978.5,31.7 978.5,30.2 978.6,28.7 978.6,27.2 978.6,25.7 978.7,24.2 978.7,22.7 978.7,21.2 978.8,19.7 978.8,18.2 978.8,16.7 978.9,15.2 978.9,13.7 978.9,12.2 979.0,10.7 979.0,10.0" stroke="#0000dc" stroke-width="3.7"/>
</g>
<rect x="138.1" y="64.1" width="195.5" height="91.4" fill="#fff" stroke="#565656" stroke-width="1.5"/>
<path d="M145.9,81.89999999999999h16M177.0,81.89999999999999h24.3" stroke="#fa0505" stroke-width="3.9" fill="none"/>
<path d="M145.9,110.0H206.5" stroke="#00ea00" stroke-width="4.6" fill="none"/>
<path d="M145.9,138.0H206.5" stroke="#0000dc" stroke-width="3.7" fill="none"/>
<g font-size="23.7" fill="#2e2e2e">
<text x="213.7" y="89.9">Water</text>
<text x="213.7" y="118.0">Smooth PA</text>
<text x="213.7" y="146.0">Rough PA</text>
</g>
<path d="M527.6,463.3L527.6,496.6" stroke="#1c1c1c" stroke-width="1.45" fill="none"/><path d="M527.6,513.9L516.9,487.4L527.6,495.6L538.4,487.4Z" fill="#000"/>
<path d="M604.2,440.0L604.2,473.1" stroke="#1c1c1c" stroke-width="1.45" fill="none"/><path d="M604.2,491.7L593.5,463.9L604.2,472.1L614.9,463.9Z" fill="#000"/>
<path d="M529.0,530.3L529.3,554.2" stroke="#1c1c1c" stroke-width="1.45" fill="none"/><path d="M529.5,571.7L518.5,545.2L529.3,553.2L539.9,544.8Z" fill="#000"/>
<path d="M601.0,503.9L601.4,527.3" stroke="#1c1c1c" stroke-width="1.45" fill="none"/><path d="M601.6,545.9L590.5,518.2L601.3,526.3L611.9,518.0Z" fill="#000"/>
<g fill="#111"><text transform="translate(493.1,861.5) scale(0.86,1)" font-size="35.5">(</text><text transform="translate(504.1,861.6) scale(0.9,1)" font-size="36" font-weight="bold">a</text><text transform="translate(520.7,861.5) scale(0.86,1)" font-size="35.5">)</text></g>
<clipPath id="clipB"><rect x="111.0" y="891.2" width="881.7" height="694.6"/></clipPath>
<rect x="112.0" y="891.2" width="879.1" height="693.6" fill="none" stroke="#5a5a5a" stroke-width="1.9"/>
<path d="M268.9,1584.8v-9.6M268.9,891.2v9.6M425.9,1584.8v-9.6M425.9,891.2v9.6M583.0,1584.8v-9.6M583.0,891.2v9.6M740.0,1584.8v-9.6M740.0,891.2v9.6M897.1,1584.8v-9.6M897.1,891.2v9.6M112.0,1515.4h9.6M991.1,1515.4h-9.6M112.0,1446.1h9.6M991.1,1446.1h-9.6M112.0,1376.7h9.6M991.1,1376.7h-9.6M112.0,1307.4h9.6M991.1,1307.4h-9.6M112.0,1238.0h9.6M991.1,1238.0h-9.6M112.0,1168.6h9.6M991.1,1168.6h-9.6M112.0,1099.3h9.6M991.1,1099.3h-9.6M112.0,1029.9h9.6M991.1,1029.9h-9.6M112.0,960.6h9.6M991.1,960.6h-9.6" stroke="#646464" stroke-width="1.6" fill="none"/>
<g font-size="26.3" fill="#2e2e2e">
<text x="111.8" y="1620.2" text-anchor="middle">900</text>
<text x="268.9" y="1620.2" text-anchor="middle">1000</text>
<text x="425.9" y="1620.2" text-anchor="middle">1100</text>
<text x="583.0" y="1620.2" text-anchor="middle">1200</text>
<text x="740.0" y="1620.2" text-anchor="middle">1300</text>
<text x="897.1" y="1620.2" text-anchor="middle">1400</text>
<text x="100.2" y="1594.6" text-anchor="end">0</text>
<text x="99.2" y="1525.2" text-anchor="end">0.1</text>
<text x="100.2" y="1455.9" text-anchor="end">0.2</text>
<text x="100.2" y="1386.5" text-anchor="end">0.3</text>
<text x="100.2" y="1317.2" text-anchor="end">0.4</text>
<text x="100.2" y="1247.8" text-anchor="end">0.5</text>
<text x="100.2" y="1178.4" text-anchor="end">0.6</text>
<text x="100.2" y="1109.1" text-anchor="end">0.7</text>
<text x="100.2" y="1039.7" text-anchor="end">0.8</text>
<text x="100.2" y="970.4" text-anchor="end">0.9</text>
<text x="99.2" y="901.0" text-anchor="end">1</text>
</g>
<text x="552.0" y="1655.2" font-size="29.45" fill="#2e2e2e" text-anchor="middle">Wavelength [nm]</text>
<g transform="translate(53.3,1238.0) rotate(-90)" font-size="30.2" fill="#2e2e2e"><text x="-102.9" y="0">Ratio (kL/</text><text transform="translate(21.5,0) scale(1.44,1)" x="0" y="0">&#916;</text><text x="55.0" y="0">n</text><text x="75.5" y="0">L)</text></g>
<g clip-path="url(#clipB)" fill="none" stroke-linejoin="round">
<polyline points="111.1,1578.8 112.6,1578.8 114.1,1578.8 115.6,1578.8 117.1,1578.8 118.6,1578.8 120.1,1578.8 121.6,1578.7 123.1,1578.7 124.6,1578.7 126.1,1578.7 127.6,1578.7 129.1,1578.7 130.6,1578.6 132.1,1578.6 133.6,1578.6 135.1,1578.6 136.6,1578.6 138.1,1578.5 139.6,1578.5 141.1,1578.5 142.6,1578.4 144.1,1578.4 145.6,1578.4 147.1,1578.3 148.6,1578.3 150.1,1578.2 151.6,1578.1 153.1,1578.1 154.6,1578.0 156.1,1577.9 157.6,1577.7 159.1,1577.6 160.6,1577.5 162.1,1577.4 163.6,1577.2 165.1,1577.1 166.5,1577.0 168.0,1576.9 169.5,1576.7 171.0,1576.6 172.5,1576.5 174.0,1576.4 175.5,1576.2 177.0,1576.1 178.5,1575.9 180.0,1575.7 181.5,1575.6 183.0,1575.4 184.4,1575.1 185.9,1574.8 187.4,1574.6 188.9,1574.3 190.3,1573.9 191.8,1573.6 193.3,1573.3 194.7,1573.1 196.2,1572.8 197.7,1572.6 199.2,1572.3 200.7,1572.1 202.1,1571.8 203.6,1571.6 205.1,1571.4 206.6,1571.2 208.1,1571.0 209.6,1570.8 211.1,1570.6 212.6,1570.5 214.0,1570.3 215.5,1570.2 217.0,1570.1 218.5,1569.9 220.0,1569.8 221.5,1569.7 223.0,1569.6 224.5,1569.5 226.0,1569.5 227.5,1569.4 229.0,1569.4 230.5,1569.4 232.0,1569.3 233.5,1569.3 235.0,1569.3 236.5,1569.2 238.0,1569.2 239.5,1569.2 241.0,1569.2 242.5,1569.2 244.0,1569.2 245.5,1569.2 247.0,1569.2 248.5,1569.3 250.0,1569.3 251.5,1569.4 253.0,1569.5 254.5,1569.6 256.0,1569.6 257.5,1569.7 259.0,1569.8 260.5,1569.9 262.0,1570.0 263.5,1570.2 265.0,1570.3 266.5,1570.5 268.0,1570.7 269.5,1570.8 270.9,1571.0 272.4,1571.2 273.9,1571.3 275.4,1571.5 276.9,1571.6 278.4,1571.8 279.9,1572.0 281.4,1572.1 282.9,1572.3 284.4,1572.5 285.9,1572.6 287.4,1572.8 288.8,1572.9 290.3,1573.1 291.8,1573.2 293.3,1573.3 294.8,1573.5 296.3,1573.6 297.8,1573.7 299.3,1573.9 300.8,1574.0 302.3,1574.2 303.8,1574.3 305.3,1574.5 306.8,1574.6 308.3,1574.8 309.7,1575.0 311.2,1575.1 312.7,1575.3 314.2,1575.5 315.7,1575.6 317.2,1575.8 318.7,1576.0 320.2,1576.1 321.7,1576.3 323.2,1576.5 324.7,1576.6 326.1,1576.8 327.6,1576.9 329.1,1577.1 330.6,1577.2 332.1,1577.4 333.6,1577.5 335.1,1577.6 336.6,1577.8 338.1,1577.9 339.6,1578.0 341.1,1578.1 342.6,1578.3 344.1,1578.4 345.6,1578.5 347.1,1578.6 348.6,1578.7 350.1,1578.8 351.6,1578.8 353.1,1578.9 354.6,1579.0 356.1,1579.1 357.6,1579.1 359.1,1579.2 360.5,1579.3 362.0,1579.3 363.5,1579.4 365.0,1579.4 366.5,1579.5 368.0,1579.5 369.5,1579.6 371.0,1579.6 372.5,1579.7 374.0,1579.7 375.5,1579.8 377.0,1579.8 378.5,1579.9 380.0,1579.9 381.5,1579.9 383.0,1580.0 384.5,1580.0 386.0,1580.0 387.5,1580.0 389.0,1580.0 390.5,1580.0 392.0,1580.1 393.5,1580.1 395.0,1580.1 396.5,1580.1 398.0,1580.1 399.5,1580.1 401.0,1580.1 402.5,1580.1 404.0,1580.1 405.5,1580.1 407.0,1580.1 408.5,1580.1 410.0,1580.0 411.5,1580.0 413.0,1580.0 414.5,1580.0 416.0,1580.0 417.5,1579.9 419.0,1579.9 420.5,1579.9 422.0,1579.9 423.5,1579.8 425.0,1579.8 426.5,1579.8 428.0,1579.8 429.5,1579.7 431.0,1579.7 432.5,1579.7 434.0,1579.6 435.5,1579.6 437.0,1579.6 438.5,1579.5 440.0,1579.5 441.5,1579.4 443.0,1579.4 444.5,1579.3 446.0,1579.3 447.5,1579.2 449.0,1579.2 450.5,1579.1 452.0,1579.0 453.5,1579.0 455.0,1578.9 456.5,1578.8 458.0,1578.7 459.5,1578.7 461.0,1578.6 462.5,1578.5 464.0,1578.4 465.5,1578.3 467.0,1578.2 468.5,1578.0 470.0,1577.9 471.5,1577.8 473.0,1577.6 474.5,1577.4 476.0,1577.3 477.5,1577.1 479.0,1576.9 480.5,1576.7 481.9,1576.4 483.4,1576.2 484.8,1575.9 486.2,1575.4 487.7,1575.0 489.1,1574.5 490.5,1573.9 491.9,1573.3 493.3,1572.8 494.7,1572.2 496.1,1571.7 497.5,1571.2 499.0,1570.7 500.4,1570.2 501.8,1569.7 503.3,1569.3 504.7,1568.8 506.1,1568.3 507.6,1567.9 509.0,1567.5 510.5,1567.1 511.9,1566.9 513.4,1566.6 514.9,1566.4 516.3,1566.2 517.8,1566.0 519.3,1565.8 520.8,1565.7 522.3,1565.5 523.8,1565.4 525.3,1565.3 526.8,1565.3 528.3,1565.2 529.8,1565.2 531.3,1565.2 532.8,1565.1 534.3,1565.1 535.8,1565.1 537.3,1565.1 538.8,1565.1 540.3,1565.0 541.8,1565.0 543.3,1565.0 544.8,1565.0 546.3,1565.0 547.8,1565.0 549.3,1565.0 550.8,1565.0 552.3,1565.0 553.8,1565.0 555.3,1565.0 556.8,1565.0 558.3,1565.0 559.8,1565.0 561.3,1565.0 562.8,1565.1 564.3,1565.1 565.8,1565.1 567.3,1565.2 568.8,1565.2 570.3,1565.2 571.8,1565.3 573.3,1565.3 574.8,1565.3 576.3,1565.4 577.8,1565.4 579.3,1565.4 580.8,1565.5 582.3,1565.5 583.8,1565.6 585.3,1565.6 586.8,1565.7 588.3,1565.7 589.8,1565.8 591.3,1565.9 592.8,1566.0 594.3,1566.1 595.8,1566.1 597.3,1566.2 598.8,1566.3 600.3,1566.4 601.8,1566.5 603.3,1566.6 604.8,1566.8 606.3,1566.9 607.8,1567.0 609.3,1567.1 610.8,1567.2 612.3,1567.3 613.8,1567.4 615.3,1567.5 616.8,1567.6 618.2,1567.7 619.7,1567.8 621.2,1568.0 622.7,1568.1 624.2,1568.2 625.7,1568.3 627.2,1568.5 628.7,1568.6 630.2,1568.7 631.7,1568.9 633.2,1569.0 634.7,1569.1 636.2,1569.2 637.7,1569.4 639.2,1569.5 640.7,1569.6 642.2,1569.7 643.7,1569.8 645.2,1569.9 646.7,1570.0 648.2,1570.1 649.6,1570.3 651.1,1570.4 652.6,1570.5 654.1,1570.6 655.6,1570.7 657.1,1570.8 658.6,1570.9 660.1,1571.0 661.6,1571.1 663.1,1571.2 664.6,1571.3 666.1,1571.4 667.6,1571.5 669.1,1571.6 670.6,1571.6 672.1,1571.7 673.6,1571.8 675.1,1571.9 676.6,1572.0 678.1,1572.1 679.6,1572.2 681.1,1572.3 682.6,1572.4 684.1,1572.4 685.6,1572.5 687.1,1572.6 688.6,1572.7 690.1,1572.8 691.6,1572.9 693.1,1572.9 694.6,1573.0 696.1,1573.1 697.6,1573.1 699.1,1573.2 700.6,1573.3 702.1,1573.3 703.6,1573.4 705.1,1573.4 706.6,1573.5 708.1,1573.5 709.6,1573.6 711.1,1573.7 712.6,1573.7 714.1,1573.8 715.6,1573.8 717.1,1573.8 718.6,1573.9 720.0,1573.9 721.5,1573.9 723.0,1574.0 724.5,1574.0 726.0,1574.0 727.5,1574.0 729.0,1574.0 730.5,1573.9 732.0,1573.9 733.5,1573.9 735.0,1573.8 736.5,1573.8 738.0,1573.7 739.5,1573.7 741.0,1573.6 742.5,1573.6 744.0,1573.5 745.5,1573.4 747.0,1573.4 748.5,1573.3 750.0,1573.1 751.5,1573.0 753.0,1572.9 754.5,1572.7 756.0,1572.6 757.5,1572.4 759.0,1572.3 760.5,1572.1 762.0,1572.0 763.5,1571.8 765.0,1571.6 766.4,1571.4 767.9,1571.3 769.4,1571.1 770.9,1570.9 772.4,1570.8 773.9,1570.6 775.4,1570.4 776.9,1570.2 778.4,1570.1 779.9,1569.9 781.3,1569.7 782.8,1569.5 784.3,1569.2 785.8,1569.0 787.3,1568.8 788.8,1568.6 790.3,1568.4 791.7,1568.2 793.2,1568.0 794.7,1567.8 796.2,1567.6 797.7,1567.4 799.2,1567.2 800.7,1567.1 802.2,1566.9 803.7,1566.8 805.2,1566.7 806.6,1566.5 808.1,1566.4 809.6,1566.3 811.1,1566.2 812.6,1566.1 814.1,1566.0 815.6,1565.9 817.1,1565.8 818.6,1565.7 820.1,1565.6 821.6,1565.5 823.1,1565.5 824.6,1565.4 826.1,1565.3 827.6,1565.2 829.1,1565.1 830.6,1565.0 832.1,1564.9 833.6,1564.7 835.1,1564.6 836.6,1564.5 838.1,1564.4 839.6,1564.3 841.1,1564.2 842.7,1564.1 844.2,1564.0 845.7,1563.8 847.2,1563.7 848.8,1563.6 850.3,1563.5 851.8,1563.3 853.3,1563.2 854.8,1563.1 856.3,1562.9 857.8,1562.7 859.2,1562.5 860.7,1562.3 862.1,1562.1 863.5,1561.8 864.9,1561.6 866.3,1561.3 867.7,1560.8 869.1,1560.2 870.4,1559.5 871.7,1558.7 873.1,1557.8 874.3,1557.0 875.6,1556.1 876.8,1555.2 878.0,1554.3 879.2,1553.4 880.4,1552.5 881.5,1551.5 882.6,1550.5 883.7,1549.5 884.8,1548.4 885.9,1547.4 886.9,1546.3 888.0,1545.2 889.0,1544.1 890.0,1543.0 891.0,1541.9 892.0,1540.7 893.0,1539.6 893.9,1538.4 894.9,1537.3 895.8,1536.1 896.7,1534.9 897.7,1533.7 898.6,1532.5 899.5,1531.3 900.4,1530.1 901.3,1528.9 902.1,1527.7 903.0,1526.4 903.8,1525.2 904.7,1523.9 905.5,1522.7 906.3,1521.4 907.1,1520.2 907.9,1518.9 908.7,1517.7 909.5,1516.4 910.3,1515.1 911.0,1513.8 911.8,1512.5 912.6,1511.2 913.3,1509.9 914.1,1508.6 914.8,1507.3 915.5,1506.0 916.2,1504.6 916.9,1503.3 917.6,1502.0 918.3,1500.7 919.0,1499.3 919.7,1498.0 920.4,1496.6 921.0,1495.3 921.7,1494.0 922.4,1492.6 923.0,1491.3 923.7,1489.9 924.3,1488.6 924.9,1487.2 925.5,1485.8 926.2,1484.5 926.8,1483.1 927.4,1481.7 928.0,1480.3 928.6,1479.0 929.2,1477.6 929.8,1476.2 930.3,1474.8 930.9,1473.4 931.5,1472.0 932.0,1470.6 932.6,1469.2 933.1,1467.8 933.7,1466.4 934.2,1465.0 934.7,1463.6 935.3,1462.2 935.8,1460.8 936.3,1459.4 936.8,1458.0 937.3,1456.6 937.8,1455.2 938.3,1453.8 938.8,1452.4 939.3,1450.9 939.8,1449.5 940.3,1448.1 940.7,1446.7 941.2,1445.2 941.7,1443.8 942.1,1442.4 942.6,1440.9 943.0,1439.5 943.4,1438.1 943.9,1436.6 944.3,1435.2 944.7,1433.8 945.1,1432.3 945.5,1430.9 945.9,1429.4 946.3,1428.0 946.7,1426.5 947.1,1425.1 947.5,1423.6 947.9,1422.2 948.2,1420.7 948.6,1419.3 949.0,1417.8 949.3,1416.4 949.7,1414.9 950.1,1413.5 950.4,1412.0 950.8,1410.5 951.2,1409.1 951.5,1407.6 951.9,1406.2 952.3,1404.7 952.6,1403.3 953.0,1401.8 953.4,1400.4 953.7,1398.9 954.1,1397.5 954.5,1396.0 954.9,1394.5 955.2,1393.1 955.6,1391.6 956.0,1390.2 956.3,1388.7 956.7,1387.3 957.0,1385.8 957.3,1384.3 957.6,1382.9 958.0,1381.4 958.3,1379.9 958.5,1378.5 958.8,1377.0 959.1,1375.5 959.3,1374.0 959.5,1372.6 959.8,1371.1 960.0,1369.6 960.2,1368.1 960.4,1366.6 960.6,1365.1 960.8,1363.7 961.0,1362.2 961.2,1360.7 961.4,1359.2 961.6,1357.7 961.8,1356.2 962.0,1354.7 962.2,1353.2 962.4,1351.7 962.6,1350.3 962.8,1348.8 963.0,1347.3 963.2,1345.8 963.4,1344.3 963.6,1342.8 963.8,1341.3 964.0,1339.9 964.2,1338.4 964.5,1336.9 964.7,1335.4 964.9,1333.9 965.1,1332.4 965.3,1330.9 965.5,1329.5 965.7,1328.0 966.0,1326.5 966.2,1325.0 966.4,1323.5 966.6,1322.0 966.8,1320.5 967.0,1319.1 967.2,1317.6 967.3,1316.1 967.5,1314.6 967.7,1313.1 967.9,1311.6 968.1,1310.1 968.2,1308.6 968.4,1307.1 968.6,1305.7 968.7,1304.2 968.9,1302.7 969.1,1301.2 969.2,1299.7 969.4,1298.2 969.5,1296.7 969.7,1295.2 969.8,1293.7 970.0,1292.2 970.2,1290.7 970.3,1289.2 970.5,1287.8 970.6,1286.3 970.8,1284.8 970.9,1283.3 971.0,1281.8 971.2,1280.3 971.3,1278.8 971.5,1277.3 971.6,1275.8 971.8,1274.3 971.9,1272.8 972.0,1271.3 972.2,1269.8 972.3,1268.3 972.4,1266.8 972.6,1265.4 972.7,1263.9 972.8,1262.4 973.0,1260.9 973.1,1259.4 973.3,1257.9 973.4,1256.4 973.5,1254.9 973.6,1253.4 973.8,1251.9 973.9,1250.4 974.0,1248.9 974.2,1247.4 974.3,1245.9 974.4,1244.4 974.6,1242.9 974.7,1241.4 974.8,1240.0 974.9,1238.5 975.1,1237.0 975.2,1235.5 975.3,1234.0 975.4,1232.5 975.6,1231.0 975.7,1229.5 975.8,1228.0 975.9,1226.5 976.0,1225.0 976.2,1223.5 976.3,1222.0 976.4,1220.5 976.5,1219.0 976.6,1217.5 976.7,1216.0 976.8,1214.5 977.0,1213.0 977.1,1211.5 977.2,1210.0 977.3,1208.5 977.4,1207.0 977.5,1205.6 977.6,1204.1 977.7,1202.6 977.8,1201.1 977.9,1199.6 978.0,1198.1 978.1,1196.6 978.2,1195.1 978.3,1193.6 978.4,1192.1 978.4,1190.6 978.5,1189.1 978.6,1187.6 978.7,1186.1 978.8,1184.6 978.9,1183.1 979.0,1181.6 979.0,1180.1 979.1,1178.6 979.2,1177.1 979.3,1175.6 979.4,1174.1 979.4,1172.6 979.5,1171.1 979.6,1169.6 979.7,1168.1 979.7,1166.6 979.8,1165.1 979.9,1163.6 980.0,1162.1 980.0,1160.6 980.1,1159.1 980.2,1157.6 980.3,1156.1 980.3,1154.6 980.4,1153.1 980.5,1151.6 980.5,1150.1 980.6,1148.6 980.7,1147.1 980.8,1145.6 980.8,1144.1 980.9,1142.6 981.0,1141.1 981.0,1139.7 981.1,1138.2 981.2,1136.7 981.2,1135.2 981.3,1133.7 981.4,1132.2 981.4,1130.7 981.5,1129.2 981.6,1127.7 981.7,1126.2 981.7,1124.7 981.8,1123.2 981.9,1121.7 981.9,1120.2 982.0,1118.7 982.1,1117.2 982.2,1115.7 982.2,1114.2 982.3,1112.7 982.4,1111.2 982.4,1109.7 982.5,1108.2 982.6,1106.7 982.7,1105.2 982.7,1103.7 982.8,1102.2 982.9,1100.7 983.0,1099.2 983.0,1097.7 983.1,1096.2 983.2,1094.7 983.3,1093.2 983.3,1091.7 983.4,1090.2 983.5,1088.7 983.6,1087.2 983.6,1085.7 983.7,1084.2 983.8,1082.7 983.9,1081.2 983.9,1079.7 984.0,1078.2 984.1,1076.7 984.1,1075.2 984.2,1073.7 984.3,1072.2 984.4,1070.7 984.4,1069.2 984.5,1067.7 984.6,1066.2 984.6,1064.7 984.7,1063.2 984.8,1061.7 984.8,1060.2 984.9,1058.7 985.0,1057.2 985.0,1055.7 985.1,1054.2 985.1,1052.7 985.2,1051.2 985.3,1049.7 985.3,1048.2 985.4,1046.7 985.4,1045.2 985.5,1043.8 985.6,1042.3 985.6,1040.8 985.7,1039.3 985.7,1037.8 985.8,1036.3 985.8,1034.8 985.9,1033.3 985.9,1031.8 986.0,1030.3 986.0,1028.8 986.1,1027.3 986.1,1025.8 986.1,1024.3 986.2,1022.8 986.2,1021.3 986.3,1019.8 986.3,1018.3 986.4,1016.8 986.4,1015.3 986.4,1013.8 986.5,1012.3 986.5,1010.8 986.6,1009.3 986.6,1007.8 986.7,1006.3 986.7,1004.8 986.7,1003.3 986.8,1001.8 986.8,1000.3 986.9,998.8 986.9,997.3 986.9,995.8 987.0,994.3 987.0,992.8 987.0,991.3 987.1,989.8 987.1,988.3 987.2,986.8 987.2,985.3 987.2,983.8 987.3,982.3 987.3,980.8 987.3,979.3 987.4,977.8 987.4,976.3 987.5,974.8 987.5,973.3 987.5,971.8 987.6,970.3 987.6,968.8 987.6,967.3 987.7,965.8 987.7,964.3 987.7,962.8 987.8,961.3 987.8,959.8 987.8,958.3 987.9,956.8 987.9,955.3 987.9,953.8 987.9,952.3 988.0,950.8 988.0,949.3 988.0,947.8 988.1,946.3 988.1,944.8 988.1,943.3 988.1,941.8 988.2,940.3 988.2,938.8 988.2,937.3 988.2,935.8 988.3,934.3 988.3,932.8 988.3,931.3 988.3,929.8 988.4,928.3 988.4,926.8 988.4,925.3 988.4,923.8 988.5,922.3 988.5,920.8 988.5,919.3 988.5,917.8 988.5,916.3 988.6,914.8 988.6,913.3 988.6,911.8 988.6,910.3 988.6,908.8 988.7,907.3 988.7,905.8 988.7,904.3 988.7,902.8 988.7,901.3 988.7,899.8 988.7,898.3 988.8,896.8 988.8,895.3 988.8,893.8 988.8,892.3 988.8,890.8 988.8,889.3 988.8,887.8 988.9,886.3 988.9,884.8 988.9,883.3 988.9,881.8 988.9,880.3 988.9,878.8 988.9,877.3 988.9,875.8 988.9,874.3 988.9,872.8 989.0,871.3 989.0,869.8 989.0,868.3 989.0,866.8 989.0,865.3 989.0,863.8 989.0,863.1" stroke="#fa0505" stroke-width="3.9" stroke-dasharray="15.9 15.15"/>
<polyline points="111.1,1172.0 112.5,1172.4 114.0,1172.8 115.4,1173.2 116.9,1173.7 118.3,1174.1 119.8,1174.5 121.2,1175.0 122.6,1175.4 124.1,1175.8 125.5,1176.3 126.9,1176.7 128.4,1177.2 129.8,1177.6 131.2,1178.1 132.6,1178.5 134.1,1179.0 135.5,1179.5 136.9,1180.0 138.3,1180.4 139.8,1180.9 141.2,1181.4 142.6,1181.9 144.0,1182.4 145.4,1182.8 146.8,1183.3 148.3,1183.8 149.7,1184.4 151.1,1184.9 152.5,1185.4 153.9,1186.0 155.3,1186.5 156.7,1187.1 158.1,1187.7 159.4,1188.2 160.8,1188.8 162.2,1189.3 163.7,1189.8 165.1,1190.3 166.5,1190.8 167.9,1191.3 169.3,1191.8 170.7,1192.2 172.2,1192.6 173.6,1193.1 175.0,1193.5 176.5,1193.9 177.9,1194.3 179.4,1194.8 180.8,1195.1 182.3,1195.5 183.7,1195.9 185.2,1196.3 186.6,1196.7 188.1,1197.0 189.6,1197.4 191.0,1197.7 192.5,1198.1 193.9,1198.4 195.4,1198.8 196.9,1199.1 198.3,1199.5 199.8,1199.8 201.3,1200.0 202.8,1200.2 204.3,1200.3 205.7,1200.3 207.2,1200.4 208.7,1200.4 210.3,1200.5 211.8,1200.5 213.3,1200.5 214.8,1200.6 216.3,1200.6 217.8,1200.7 219.3,1200.7 220.7,1200.8 222.2,1201.0 223.7,1201.1 225.2,1201.4 226.6,1201.6 228.1,1201.9 229.6,1202.3 231.0,1202.7 232.5,1203.0 234.0,1203.4 235.4,1203.8 236.9,1204.3 238.3,1204.7 239.8,1205.1 241.2,1205.5 242.7,1205.8 244.2,1206.2 245.6,1206.5 247.1,1206.9 248.5,1207.2 250.0,1207.6 251.4,1208.0 252.9,1208.3 254.3,1208.7 255.8,1209.1 257.2,1209.5 258.7,1209.8 260.2,1210.2 261.6,1210.6 263.1,1210.9 264.5,1211.3 266.0,1211.6 267.4,1212.0 268.9,1212.3 270.4,1212.6 271.8,1212.9 273.3,1213.3 274.8,1213.6 276.3,1213.9 277.7,1214.2 279.2,1214.5 280.7,1214.8 282.1,1215.1 283.6,1215.5 285.0,1215.8 286.5,1216.2 287.9,1216.5 289.4,1216.9 290.8,1217.3 292.3,1217.7 293.7,1218.1 295.2,1218.6 296.6,1219.0 298.0,1219.5 299.5,1219.9 300.9,1220.4 302.3,1220.9 303.7,1221.4 305.2,1221.9 306.6,1222.4 308.0,1222.9 309.4,1223.5 310.8,1224.0 312.1,1224.6 313.5,1225.2 314.9,1225.8 316.2,1226.4 317.6,1227.0 318.9,1227.7 320.3,1228.4 321.6,1229.1 322.9,1229.8 324.3,1230.5 325.6,1231.2 326.9,1231.9 328.3,1232.6 329.6,1233.3 330.9,1234.0 332.2,1234.7 333.6,1235.4 334.9,1236.1 336.2,1236.8 337.5,1237.5 338.8,1238.3 340.1,1239.0 341.4,1239.7 342.8,1240.5 344.1,1241.2 345.4,1241.9 346.7,1242.6 348.0,1243.4 349.3,1244.1 350.6,1244.8 351.9,1245.6 353.2,1246.3 354.5,1247.0 355.9,1247.8 357.2,1248.5 358.5,1249.2 359.8,1249.9 361.1,1250.7 362.4,1251.4 363.8,1252.1 365.1,1252.8 366.4,1253.5 367.7,1254.3 369.0,1255.0 370.3,1255.7 371.6,1256.4 373.0,1257.1 374.3,1257.8 375.6,1258.6 376.9,1259.3 378.2,1260.0 379.5,1260.7 380.9,1261.4 382.2,1262.2 383.5,1262.9 384.8,1263.6 386.1,1264.3 387.4,1265.1 388.8,1265.8 390.1,1266.5 391.4,1267.2 392.7,1267.9 394.0,1268.7 395.3,1269.4 396.6,1270.1 397.9,1270.8 399.3,1271.6 400.6,1272.3 401.9,1273.1 403.2,1273.8 404.5,1274.5 405.8,1275.3 407.1,1276.0 408.4,1276.8 409.7,1277.5 411.0,1278.3 412.3,1279.0 413.6,1279.8 414.9,1280.5 416.2,1281.3 417.5,1282.0 418.8,1282.8 420.1,1283.6 421.3,1284.3 422.6,1285.1 423.9,1285.9 425.2,1286.7 426.5,1287.4 427.8,1288.2 429.0,1289.0 430.3,1289.8 431.6,1290.6 432.9,1291.4 434.1,1292.2 435.4,1293.0 436.7,1293.8 437.9,1294.6 439.2,1295.4 440.5,1296.2 441.7,1297.0 443.0,1297.8 444.2,1298.6 445.5,1299.5 446.8,1300.3 448.0,1301.1 449.3,1301.9 450.5,1302.8 451.7,1303.6 453.0,1304.5 454.2,1305.3 455.5,1306.2 456.7,1307.0 457.9,1307.9 459.1,1308.7 460.3,1309.6 461.6,1310.5 462.8,1311.4 464.0,1312.3 465.1,1313.2 466.3,1314.1 467.5,1315.1 468.7,1316.0 469.9,1316.9 471.1,1317.8 472.3,1318.7 473.5,1319.6 474.7,1320.6 475.9,1321.5 477.1,1322.4 478.3,1323.2 479.5,1324.1 480.7,1325.0 481.9,1325.9 483.1,1326.9 484.3,1327.8 485.6,1328.8 486.8,1329.7 488.0,1330.6 489.3,1331.3 490.6,1332.0 491.9,1332.4 493.3,1332.9 494.8,1333.3 496.3,1333.6 497.8,1333.9 499.3,1334.1 500.8,1334.1 502.2,1333.9 503.6,1333.4 505.1,1332.9 506.5,1332.3 507.9,1331.7 509.3,1331.2 510.8,1330.7 512.2,1330.2 513.7,1329.7 515.1,1329.3 516.6,1329.1 518.0,1329.0 519.5,1329.1 521.0,1329.2 522.5,1329.3 524.0,1329.5 525.5,1329.7 527.0,1329.9 528.5,1330.1 530.0,1330.4 531.4,1330.6 532.9,1330.9 534.4,1331.2 535.8,1331.5 537.3,1331.8 538.8,1332.1 540.3,1332.4 541.8,1332.6 543.2,1332.9 544.7,1333.2 546.2,1333.5 547.7,1333.9 549.1,1334.1 550.6,1334.4 552.1,1334.5 553.6,1334.7 555.1,1334.7 556.6,1334.6 558.2,1334.5 559.7,1334.3 561.0,1334.0 562.1,1333.3 563.1,1332.2 564.0,1330.9 564.9,1329.5 565.8,1328.1 566.7,1326.9 567.6,1325.6 568.4,1324.3 569.2,1323.0 570.1,1321.6 570.9,1320.4 571.8,1319.2 572.7,1318.1 573.8,1317.3 575.0,1316.4 576.3,1315.6 577.8,1314.8 579.2,1314.3 580.7,1314.1 582.1,1314.1 583.5,1314.1 585.0,1314.1 586.5,1314.1 588.1,1314.1 589.6,1314.1 591.1,1314.1 592.6,1314.1 594.1,1314.1 595.7,1314.1 597.2,1314.2 598.7,1314.4 600.2,1314.5 601.7,1314.6 603.1,1314.5 604.4,1314.0 605.7,1313.2 607.0,1312.2 608.2,1311.2 609.4,1310.3 610.6,1309.2 611.7,1308.0 612.7,1306.8 613.9,1305.9 615.1,1305.6 616.6,1305.4 618.2,1305.4 619.7,1305.3 621.1,1305.4 622.4,1305.9 623.7,1306.7 625.0,1307.7 626.2,1308.8 627.3,1309.9 628.4,1310.9 629.4,1311.9 630.4,1313.0 631.4,1314.2 632.3,1315.4 633.2,1316.6 634.1,1317.8 635.0,1319.1 635.9,1320.3 636.8,1321.5 637.7,1322.7 638.6,1323.9 639.5,1325.1 640.5,1326.2 641.4,1327.4 642.3,1328.6 643.2,1329.8 644.1,1331.0 645.0,1332.2 645.9,1333.4 646.9,1334.6 647.8,1335.8 648.7,1336.9 649.6,1338.1 650.6,1339.3 651.5,1340.5 652.4,1341.6 653.4,1342.8 654.3,1344.0 655.3,1345.1 656.2,1346.3 657.2,1347.5 658.1,1348.6 659.1,1349.8 660.1,1350.9 661.0,1352.1 662.0,1353.2 663.0,1354.4 663.9,1355.5 664.9,1356.6 665.9,1357.8 666.9,1358.9 667.9,1360.0 668.9,1361.1 669.9,1362.2 670.9,1363.3 671.9,1364.4 673.0,1365.5 674.0,1366.6 675.0,1367.7 676.1,1368.8 677.1,1369.9 678.1,1370.9 679.2,1372.0 680.2,1373.1 681.3,1374.2 682.4,1375.2 683.4,1376.3 684.5,1377.3 685.5,1378.4 686.6,1379.5 687.7,1380.5 688.8,1381.6 689.8,1382.6 690.9,1383.7 692.0,1384.7 693.1,1385.7 694.2,1386.8 695.2,1387.8 696.3,1388.8 697.4,1389.9 698.5,1390.9 699.6,1391.9 700.7,1393.0 701.8,1394.0 702.9,1395.0 704.0,1396.0 705.1,1397.0 706.2,1398.1 707.3,1399.1 708.4,1400.1 709.5,1401.1 710.7,1402.1 711.8,1403.1 712.9,1404.1 714.0,1405.1 715.2,1406.0 716.3,1407.0 717.4,1408.0 718.6,1409.0 719.7,1410.0 720.8,1410.9 722.0,1411.9 723.1,1412.8 724.3,1413.8 725.5,1414.7 726.6,1415.7 727.8,1416.6 729.0,1417.6 730.1,1418.5 731.3,1419.4 732.5,1420.4 733.7,1421.3 734.9,1422.2 736.0,1423.2 737.2,1424.1 738.4,1425.0 739.6,1425.9 740.8,1426.8 742.0,1427.7 743.2,1428.6 744.4,1429.5 745.6,1430.5 746.7,1431.4 747.9,1432.3 749.1,1433.2 750.3,1434.1 751.5,1435.0 752.7,1436.0 753.9,1436.9 755.1,1437.8 756.3,1438.7 757.5,1439.6 758.7,1440.5 759.9,1441.4 761.2,1442.2 762.4,1443.1 763.6,1444.0 764.8,1444.8 766.1,1445.6 767.3,1446.5 768.6,1447.3 769.8,1448.1 771.1,1448.8 772.4,1449.6 773.7,1450.4 775.0,1451.1 776.3,1451.9 777.6,1452.6 778.9,1453.4 780.2,1454.1 781.5,1454.8 782.8,1455.5 784.2,1456.2 785.5,1456.9 786.8,1457.6 788.2,1458.3 789.5,1459.0 790.8,1459.7 792.2,1460.4 793.5,1461.1 794.9,1461.7 796.2,1462.4 797.6,1463.0 798.9,1463.7 800.3,1464.3 801.6,1464.9 803.0,1465.6 804.4,1466.2 805.7,1466.8 807.1,1467.4 808.5,1468.0 809.8,1468.6 811.2,1469.3 812.6,1469.9 813.9,1470.5 815.3,1471.2 816.6,1471.8 818.0,1472.5 819.3,1473.1 820.7,1473.8 822.0,1474.5 823.3,1475.2 824.7,1475.9 826.0,1476.6 827.3,1477.3 828.6,1478.0 829.9,1478.7 831.3,1479.4 832.6,1480.1 834.0,1480.8 835.3,1481.5 836.6,1482.1 838.0,1482.8 839.3,1483.5 840.7,1484.2 842.0,1484.8 843.3,1485.5 844.7,1486.2 846.0,1486.8 847.4,1487.5 848.8,1488.1 850.1,1488.7 851.5,1489.3 852.9,1489.9 854.2,1490.5 855.6,1491.1 857.0,1491.7 858.4,1492.3 859.8,1492.9 861.2,1493.4 862.6,1493.9 864.1,1494.2 865.5,1494.5 867.0,1494.8 868.5,1495.0 870.0,1495.2 871.5,1495.2 873.0,1495.1 874.5,1494.9 876.0,1494.6 877.5,1494.3 879.0,1493.9 880.5,1493.5 881.9,1493.0 883.2,1492.5 884.5,1492.0 885.7,1491.2 887.0,1490.4 888.2,1489.4 889.3,1488.4 890.5,1487.3 891.6,1486.2 892.7,1485.1 893.7,1484.0 894.7,1482.9 895.6,1481.8 896.6,1480.6 897.5,1479.5 898.4,1478.3 899.3,1477.0 900.2,1475.8 901.0,1474.5 901.8,1473.2 902.6,1471.9 903.4,1470.6 904.2,1469.3 904.9,1468.0 905.6,1466.7 906.3,1465.4 907.0,1464.0 907.6,1462.7 908.3,1461.4 908.9,1460.0 909.5,1458.7 910.1,1457.3 910.7,1455.9 911.3,1454.5 911.9,1453.1 912.4,1451.7 913.0,1450.3 913.5,1448.9 914.1,1447.5 914.6,1446.1 915.1,1444.7 915.6,1443.3 916.1,1441.8 916.6,1440.4 917.1,1439.0 917.6,1437.6 918.1,1436.1 918.6,1434.7 919.0,1433.3 919.5,1431.9 920.0,1430.5 920.4,1429.0 920.9,1427.6 921.3,1426.2 921.8,1424.7 922.2,1423.3 922.7,1421.9 923.1,1420.4 923.5,1419.0 923.9,1417.6 924.4,1416.1 924.8,1414.7 925.2,1413.2 925.6,1411.8 926.0,1410.3 926.4,1408.9 926.8,1407.4 927.2,1406.0 927.6,1404.5 927.9,1403.1 928.3,1401.6 928.7,1400.2 929.1,1398.7 929.4,1397.3 929.8,1395.8 930.2,1394.4 930.5,1392.9 930.9,1391.4 931.2,1390.0 931.6,1388.5 931.9,1387.1 932.3,1385.6 932.6,1384.2 932.9,1382.7 933.3,1381.2 933.6,1379.8 933.9,1378.3 934.2,1376.8 934.5,1375.4 934.9,1373.9 935.2,1372.4 935.5,1371.0 935.8,1369.5 936.1,1368.0 936.4,1366.6 936.7,1365.1 937.0,1363.6 937.3,1362.1 937.6,1360.7 937.9,1359.2 938.2,1357.7 938.5,1356.3 938.8,1354.8 939.1,1353.3 939.4,1351.9 939.7,1350.4 940.0,1348.9 940.3,1347.4 940.6,1346.0 940.9,1344.5 941.2,1343.0 941.5,1341.6 941.8,1340.1 942.1,1338.6 942.4,1337.2 942.7,1335.7 943.0,1334.2 943.3,1332.7 943.6,1331.3 943.9,1329.8 944.2,1328.3 944.5,1326.9 944.7,1325.4 945.0,1323.9 945.3,1322.4 945.5,1321.0 945.8,1319.5 946.0,1318.0 946.3,1316.5 946.5,1315.0 946.7,1313.6 947.0,1312.1 947.2,1310.6 947.4,1309.1 947.6,1307.6 947.9,1306.1 948.1,1304.6 948.3,1303.2 948.5,1301.7 948.7,1300.2 948.9,1298.7 949.1,1297.2 949.3,1295.7 949.5,1294.2 949.7,1292.8 949.8,1291.3 950.0,1289.8 950.2,1288.3 950.4,1286.8 950.6,1285.3 950.7,1283.8 950.9,1282.3 951.1,1280.8 951.3,1279.4 951.4,1277.9 951.6,1276.4 951.8,1274.9 951.9,1273.4 952.1,1271.9 952.3,1270.4 952.4,1268.9 952.6,1267.4 952.7,1265.9 952.9,1264.4 953.1,1262.9 953.2,1261.5 953.4,1260.0 953.6,1258.5 953.7,1257.0 953.9,1255.5 954.0,1254.0 954.2,1252.5 954.4,1251.0 954.5,1249.5 954.7,1248.0 954.8,1246.5 955.0,1245.1 955.2,1243.6 955.3,1242.1 955.5,1240.6 955.6,1239.1 955.8,1237.6 955.9,1236.1 956.1,1234.6 956.2,1233.1 956.4,1231.6 956.5,1230.1 956.7,1228.6 956.8,1227.1 957.0,1225.7 957.1,1224.2 957.3,1222.7 957.4,1221.2 957.6,1219.7 957.7,1218.2 957.8,1216.7 958.0,1215.2 958.1,1213.7 958.2,1212.2 958.4,1210.7 958.5,1209.2 958.6,1207.7 958.7,1206.2 958.9,1204.7 959.0,1203.2 959.1,1201.7 959.2,1200.3 959.4,1198.8 959.5,1197.3 959.6,1195.8 959.7,1194.3 959.8,1192.8 959.9,1191.3 960.1,1189.8 960.2,1188.3 960.3,1186.8 960.4,1185.3 960.5,1183.8 960.6,1182.3 960.7,1180.8 960.8,1179.3 960.9,1177.8 961.0,1176.3 961.1,1174.8 961.2,1173.3 961.3,1171.8 961.4,1170.3 961.5,1168.8 961.6,1167.3 961.7,1165.8 961.8,1164.3 961.9,1162.8 962.0,1161.3 962.0,1159.9 962.1,1158.4 962.2,1156.9 962.3,1155.4 962.3,1153.9 962.4,1152.4 962.5,1150.9 962.6,1149.4 962.6,1147.9 962.7,1146.4 962.8,1144.9 962.9,1143.4 962.9,1141.9 963.0,1140.4 963.1,1138.9 963.1,1137.4 963.2,1135.9 963.3,1134.4 963.3,1132.9 963.4,1131.4 963.5,1129.9 963.6,1128.4 963.6,1126.9 963.7,1125.4 963.8,1123.9 963.9,1122.4 964.0,1120.9 964.0,1119.4 964.1,1117.9 964.2,1116.4 964.3,1114.9 964.4,1113.4 964.5,1111.9 964.6,1110.4 964.7,1108.9 964.7,1107.4 964.8,1105.9 964.9,1104.4 965.0,1102.9 965.1,1101.4 965.2,1099.9 965.3,1098.4 965.4,1096.9 965.5,1095.4 965.6,1093.9 965.7,1092.4 965.8,1091.0 965.9,1089.5 966.0,1088.0 966.1,1086.5 966.3,1085.0 966.4,1083.5 966.5,1082.0 966.6,1080.5 966.7,1079.0 966.8,1077.5 966.9,1076.0 967.0,1074.5 967.1,1073.0 967.2,1071.5 967.3,1070.0 967.4,1068.5 967.5,1067.0 967.6,1065.5 967.7,1064.0 967.8,1062.5 967.9,1061.0 968.0,1059.5 968.1,1058.0 968.2,1056.5 968.3,1055.0 968.4,1053.5 968.5,1052.0 968.6,1050.5 968.7,1049.0 968.8,1047.5 968.9,1046.0 968.9,1044.6 969.0,1043.1 969.1,1041.6 969.2,1040.1 969.3,1038.6 969.4,1037.1 969.4,1035.6 969.5,1034.1 969.6,1032.6 969.6,1031.1 969.7,1029.6 969.8,1028.1 969.9,1026.6 969.9,1025.1 970.0,1023.6 970.0,1022.1 970.1,1020.6 970.1,1019.1 970.2,1017.6 970.3,1016.1 970.3,1014.6 970.4,1013.1 970.4,1011.6 970.5,1010.1 970.5,1008.6 970.6,1007.1 970.6,1005.6 970.7,1004.1 970.7,1002.6 970.8,1001.1 970.8,999.6 970.9,998.1 970.9,996.6 971.0,995.1 971.0,993.6 971.1,992.1 971.1,990.6 971.2,989.1 971.2,987.6 971.3,986.1 971.3,984.6 971.4,983.1 971.4,981.6 971.4,980.1 971.5,978.6 971.5,977.1 971.6,975.6 971.6,974.1 971.7,972.6 971.7,971.1 971.7,969.6 971.8,968.1 971.8,966.6 971.9,965.1 971.9,963.6 971.9,962.1 972.0,960.6 972.0,959.1 972.1,957.6 972.1,956.1 972.1,954.6 972.2,953.1 972.2,951.6 972.3,950.1 972.3,948.6 972.3,947.1 972.4,945.6 972.4,944.1 972.4,942.6 972.5,941.1 972.5,939.6 972.5,938.1 972.6,936.6 972.6,935.1 972.7,933.6 972.7,932.1 972.7,930.6 972.8,929.1 972.8,927.6 972.8,926.1 972.9,924.6 972.9,923.1 972.9,921.6 973.0,920.1 973.0,918.6 973.0,917.1 973.1,915.6 973.1,914.1 973.1,912.6 973.2,911.1 973.2,909.6 973.2,908.1 973.3,906.6 973.3,905.1 973.3,903.6 973.4,902.1 973.4,900.6 973.4,899.1 973.5,897.6 973.5,896.1 973.5,894.6 973.6,893.1 973.6,891.6 973.6,890.1 973.7,888.6 973.7,887.1 973.7,885.6 973.7,884.1 973.8,882.6 973.8,881.1 973.8,879.6 973.9,878.1 973.9,876.6 973.9,875.1 974.0,873.6 974.0,872.1 974.0,870.6 974.0,869.1 974.1,867.6 974.1,866.1 974.1,864.6 974.1,863.1 974.2,861.6 974.2,860.1 974.2,860.0" stroke="#00ea00" stroke-width="4.6"/>
<path d="M990.1,891.2V1585.8" stroke="#00ea00" stroke-width="5.0"/>
<polyline points="111.1,1323.9 112.3,1324.1 113.5,1324.4 114.7,1324.7 115.9,1324.5 117.1,1324.3 118.3,1324.2 119.5,1324.1 120.7,1324.0 121.9,1323.8 123.1,1323.7 124.3,1323.9 125.5,1324.2 126.7,1324.4 127.9,1324.5 129.1,1324.4 130.3,1324.4 131.5,1324.6 132.7,1325.1 133.9,1325.3 135.1,1325.6 136.3,1325.8 137.5,1325.5 138.7,1325.1 139.9,1325.0 141.1,1325.3 142.3,1325.2 143.5,1325.1 144.7,1325.5 145.9,1326.0 147.1,1326.0 148.3,1325.9 149.5,1325.7 150.7,1326.1 151.9,1326.2 153.1,1326.4 154.3,1326.0 155.5,1325.9 156.7,1325.5 157.9,1325.4 159.1,1325.7 160.3,1325.9 161.5,1326.2 162.7,1326.3 163.9,1326.4 165.1,1326.2 166.2,1326.0 167.4,1325.9 168.6,1325.8 169.8,1325.7 171.0,1325.7 172.2,1325.6 173.4,1325.5 174.6,1325.4 175.8,1325.6 177.0,1325.6 178.2,1325.6 179.4,1325.5 180.6,1325.6 181.8,1325.7 183.0,1325.9 184.2,1326.3 185.4,1326.4 186.6,1326.6 187.8,1326.5 189.0,1326.5 190.2,1326.5 191.4,1326.8 192.6,1327.1 193.8,1327.3 195.0,1327.2 196.2,1327.2 197.4,1327.3 198.6,1327.4 199.8,1327.2 201.0,1327.0 202.2,1326.5 203.4,1326.4 204.6,1326.1 205.8,1326.3 207.0,1326.4 208.2,1326.9 209.4,1327.2 210.6,1327.2 211.8,1327.2 213.0,1327.2 214.2,1327.4 215.4,1327.4 216.6,1327.3 217.8,1327.1 219.0,1327.0 220.2,1327.2 221.4,1327.1 222.6,1327.1 223.8,1326.8 225.0,1327.1 226.2,1327.4 227.4,1327.6 228.6,1327.5 229.8,1327.7 231.0,1327.9 232.2,1328.3 233.4,1328.4 234.6,1328.0 235.8,1327.5 237.0,1327.4 238.2,1327.7 239.4,1328.1 240.6,1328.2 241.8,1328.0 243.0,1328.0 244.2,1328.4 245.4,1328.2 246.6,1328.0 247.8,1327.8 249.0,1328.2 250.2,1328.1 251.4,1328.2 252.6,1328.0 253.8,1328.0 255.0,1328.3 256.2,1328.6 257.4,1328.7 258.6,1328.3 259.8,1327.9 261.0,1327.8 262.2,1327.8 263.4,1328.3 264.6,1328.6 265.8,1328.7 267.0,1328.8 268.2,1329.0 269.4,1329.4 270.6,1329.5 271.8,1329.3 273.0,1328.8 274.2,1328.8 275.4,1329.0 276.6,1329.2 277.8,1329.3 279.0,1329.3 280.2,1329.4 281.4,1329.5 282.6,1329.7 283.8,1329.7 285.0,1329.9 286.2,1330.1 287.4,1330.4 288.6,1330.4 289.8,1330.5 291.0,1330.4 292.2,1330.1 293.4,1329.9 294.6,1329.5 295.8,1329.7 297.0,1329.9 298.2,1330.0 299.4,1330.2 300.6,1330.5 301.8,1330.8 303.0,1330.8 304.2,1330.7 305.4,1330.6 306.6,1330.7 307.8,1330.8 309.0,1331.1 310.2,1331.0 311.4,1331.1 312.6,1331.1 313.8,1331.4 315.0,1331.5 316.2,1331.7 317.4,1331.6 318.6,1331.7 319.8,1331.9 321.0,1331.9 322.2,1331.7 323.4,1331.5 324.6,1331.4 325.8,1331.5 326.9,1331.7 328.1,1331.8 329.3,1331.6 330.5,1331.6 331.7,1331.8 332.9,1332.2 334.1,1332.2 335.3,1331.8 336.5,1331.6 337.7,1331.6 338.9,1331.5 340.1,1331.5 341.3,1331.5 342.5,1331.8 343.7,1331.9 344.9,1332.4 346.1,1332.9 347.3,1333.2 348.5,1333.5 349.7,1333.8 350.9,1333.8 352.1,1333.5 353.3,1332.9 354.5,1332.6 355.7,1332.4 356.9,1332.8 358.1,1333.0 359.3,1333.1 360.5,1333.2 361.7,1333.3 362.9,1333.4 364.1,1333.5 365.3,1333.4 366.5,1333.3 367.7,1333.3 368.9,1333.4 370.1,1333.4 371.3,1333.5 372.5,1333.8 373.7,1334.2 374.9,1334.7 376.1,1334.7 377.3,1334.8 378.5,1334.8 379.7,1334.9 380.9,1334.7 382.1,1334.6 383.3,1334.8 384.5,1335.1 385.6,1335.1 386.8,1335.0 388.0,1335.1 389.2,1335.1 390.4,1335.1 391.6,1335.4 392.8,1336.2 394.0,1336.7 395.2,1337.1 396.4,1336.9 397.6,1336.7 398.8,1336.6 400.0,1336.5 401.2,1336.5 402.4,1336.6 403.6,1337.0 404.8,1337.2 406.0,1337.2 407.2,1337.0 408.4,1337.2 409.6,1337.3 410.8,1337.4 412.0,1337.1 413.2,1337.0 414.4,1336.8 415.6,1337.0 416.8,1337.2 418.0,1337.2 419.2,1337.0 420.4,1337.1 421.6,1337.4 422.8,1337.5 423.9,1337.6 425.1,1338.1 426.3,1338.6 427.5,1338.7 428.7,1338.8 429.9,1338.8 431.1,1339.1 432.3,1338.9 433.5,1338.8 434.7,1338.7 435.9,1338.9 437.1,1339.2 438.3,1339.5 439.5,1339.5 440.7,1339.5 441.9,1339.6 443.0,1340.0 444.2,1340.3 445.4,1340.4 446.6,1340.6 447.8,1341.1 449.0,1341.5 450.2,1341.5 451.4,1341.3 452.6,1341.4 453.7,1341.5 454.9,1341.3 456.1,1341.1 457.3,1341.5 458.5,1341.7 459.7,1341.8 460.8,1341.5 462.0,1341.7 463.2,1341.9 464.4,1342.2 465.5,1342.3 466.7,1342.7 467.9,1343.1 469.1,1343.6 470.2,1343.8 471.4,1344.0 472.6,1344.1 473.8,1344.6 475.0,1345.2 476.2,1345.6 477.3,1345.9 478.5,1346.3 479.7,1346.9 480.9,1347.1 482.1,1346.8 483.3,1346.5 484.5,1346.8 485.7,1347.1 486.9,1347.0 488.1,1346.6 489.3,1346.9 490.5,1347.1 491.7,1347.0 492.9,1347.0 494.1,1347.2 495.3,1347.3 496.5,1347.0 497.7,1347.1 498.9,1347.2 500.0,1347.2 501.2,1346.8 502.4,1346.2 503.6,1346.0 504.7,1345.8 505.9,1345.9 507.1,1345.6 508.3,1345.2 509.4,1344.5 510.6,1343.9 511.8,1343.5 512.9,1343.2 514.1,1342.9 515.3,1342.8 516.5,1342.4 517.7,1342.4 518.9,1342.4 520.0,1342.6 521.2,1342.4 522.4,1342.2 523.6,1341.5 524.8,1341.0 526.0,1340.8 527.2,1340.8 528.3,1340.8 529.5,1340.5 530.7,1340.4 531.9,1340.3 533.1,1340.5 534.3,1340.5 535.5,1340.5 536.7,1340.2 537.9,1340.0 539.1,1339.7 540.3,1339.3 541.5,1339.1 542.7,1339.3 543.9,1339.6 545.1,1339.6 546.3,1339.2 547.5,1338.7 548.7,1338.5 549.9,1338.2 551.1,1337.9 552.3,1337.4 553.5,1337.3 554.7,1337.2 555.8,1337.2 557.0,1337.0 558.1,1336.9 559.2,1337.0 560.3,1336.6 561.4,1335.9 562.4,1335.0 563.5,1334.7 564.5,1334.1 565.6,1333.4 566.6,1332.7 567.7,1332.2 568.8,1331.5 569.8,1331.2 570.9,1330.8 572.0,1330.5 573.2,1329.9 574.3,1329.8 575.5,1329.3 576.6,1329.0 577.8,1328.7 579.0,1328.9 580.2,1328.8 581.4,1328.7 582.6,1328.2 583.8,1327.8 585.0,1327.3 586.1,1327.1 587.3,1327.1 588.5,1327.3 589.7,1327.2 590.9,1327.0 592.1,1327.0 593.3,1327.0 594.5,1326.8 595.7,1326.7 596.9,1326.6 598.1,1326.3 599.3,1325.7 600.4,1325.1 601.6,1324.7 602.7,1324.3 603.8,1324.0 604.9,1323.6 606.0,1322.9 607.1,1322.3 608.2,1322.1 609.3,1322.1 610.4,1321.7 611.6,1321.3 612.7,1320.9 613.9,1320.7 615.0,1320.4 616.2,1320.1 617.4,1319.7 618.6,1319.3 619.8,1319.0 621.0,1318.8 622.2,1319.0 623.4,1318.9 624.6,1319.0 625.8,1319.2 627.0,1319.2 628.2,1318.8 629.4,1319.1 630.6,1319.5 631.8,1320.0 633.0,1320.0 634.2,1320.1 635.3,1320.4 636.5,1320.6 637.7,1321.0 638.8,1321.4 640.0,1322.0 641.2,1322.2 642.3,1322.2 643.5,1322.0 644.7,1322.4 645.8,1322.6 647.0,1322.8 648.2,1323.0 649.3,1323.3 650.5,1323.5 651.7,1323.8 652.8,1323.9 654.0,1324.1 655.2,1324.5 656.4,1325.1 657.5,1325.5 658.7,1325.5 659.9,1325.6 661.0,1326.0 662.2,1326.5 663.4,1326.8 664.6,1326.7 665.7,1326.8 666.9,1326.9 668.1,1327.3 669.2,1327.5 670.4,1328.2 671.6,1328.9 672.8,1329.6 673.9,1330.0 675.1,1330.0 676.3,1329.9 677.4,1329.9 678.6,1330.3 679.8,1330.7 681.0,1330.8 682.1,1330.9 683.3,1331.3 684.5,1332.0 685.7,1332.4 686.8,1332.4 688.0,1332.5 689.2,1332.6 690.3,1332.8 691.5,1333.0 692.7,1333.4 693.8,1333.7 695.0,1333.8 696.2,1334.0 697.3,1334.5 698.5,1335.0 699.6,1335.2 700.8,1335.2 701.9,1335.6 703.0,1336.2 704.2,1336.7 705.3,1337.3 706.4,1337.9 707.6,1338.3 708.7,1338.7 709.8,1338.9 711.0,1339.3 712.1,1339.6 713.2,1339.8 714.4,1340.1 715.5,1340.5 716.7,1341.1 717.8,1341.4 718.9,1341.9 720.1,1342.2 721.2,1342.5 722.4,1342.6 723.5,1343.2 724.7,1343.8 725.8,1344.5 726.9,1344.6 728.1,1344.6 729.2,1344.6 730.4,1345.1 731.5,1345.6 732.7,1345.9 733.8,1346.5 735.0,1347.0 736.1,1347.9 737.3,1348.1 738.4,1348.3 739.6,1348.4 740.7,1348.8 741.8,1349.3 743.0,1349.6 744.1,1349.8 745.3,1349.9 746.4,1350.2 747.6,1350.7 748.7,1351.2 749.9,1351.3 751.1,1351.7 752.2,1352.1 753.4,1352.3 754.5,1352.6 755.7,1353.2 756.8,1353.6 758.0,1354.0 759.1,1354.1 760.3,1354.4 761.4,1354.7 762.6,1355.2 763.7,1355.4 764.9,1355.6 766.0,1356.2 767.2,1357.0 768.3,1357.5 769.5,1357.9 770.6,1358.4 771.7,1358.7 772.9,1359.0 774.0,1359.3 775.1,1359.6 776.3,1359.8 777.4,1360.1 778.5,1360.4 779.6,1360.7 780.7,1360.8 781.9,1361.3 783.0,1361.9 784.1,1362.4 785.2,1363.1 786.3,1363.9 787.5,1364.8 788.6,1365.1 789.7,1365.5 790.8,1365.8 791.9,1366.4 793.0,1366.9 794.2,1367.0 795.3,1367.0 796.4,1367.4 797.5,1368.3 798.6,1369.0 799.8,1369.4 800.9,1369.8 802.0,1370.2 803.2,1370.7 804.3,1371.1 805.5,1371.1 806.7,1371.4 807.9,1371.5 809.1,1372.1 810.3,1372.3 811.4,1372.5 812.6,1372.8 813.7,1373.3 814.8,1373.7 815.9,1373.8 816.9,1374.1 817.9,1374.7 818.8,1375.9 819.6,1376.9 820.4,1378.1 821.2,1379.1 822.0,1380.1 822.8,1380.9 823.8,1381.8 824.8,1382.4 825.8,1382.9 827.0,1383.4 828.1,1384.0 829.3,1384.5 830.5,1384.8 831.7,1384.9 832.9,1384.9 834.0,1384.2 835.2,1383.3 836.4,1382.4 837.4,1382.1 838.4,1382.3 839.3,1382.6 840.2,1383.6 841.1,1384.5 842.0,1385.5 842.8,1386.1 843.6,1387.0 844.4,1388.1 845.2,1389.4 846.0,1390.5 846.8,1391.4 847.6,1392.4 848.5,1393.1 849.3,1394.3 850.1,1394.9 850.9,1395.6 851.7,1396.1 852.6,1397.1 853.4,1397.9 854.2,1398.4 855.1,1399.4 856.0,1400.4 856.9,1401.4 857.9,1402.5 858.9,1403.4 859.9,1404.2 861.0,1404.5 862.1,1405.1 863.3,1405.6 864.4,1406.1 865.6,1406.3 866.7,1406.6 868.0,1406.6 869.2,1406.3 870.5,1405.9 871.7,1405.8 872.7,1405.7 873.6,1406.3 874.4,1407.4 875.1,1409.0 875.8,1410.2 876.6,1410.8 877.6,1410.9 878.7,1411.1 879.9,1411.0 881.2,1410.8 882.4,1410.7 883.6,1411.0 884.6,1411.3 885.6,1411.4 886.6,1410.4 887.5,1409.1 888.5,1408.0 889.5,1407.4 890.5,1406.8 891.6,1406.3 892.9,1405.9 894.2,1405.8 895.3,1405.4 896.0,1404.7 896.7,1403.7 897.2,1402.7 897.7,1401.5 898.1,1400.5 898.5,1399.3 898.9,1398.3 899.3,1397.1 899.7,1396.2 900.2,1394.9 900.7,1393.7 901.3,1392.9 901.9,1391.9 902.5,1390.5 903.1,1389.3 903.7,1388.3 904.4,1387.6 905.0,1386.6 905.7,1385.6 906.3,1384.6 906.9,1384.0 907.6,1383.2 908.2,1382.3 908.8,1381.3 909.4,1380.1 910.0,1378.5 910.5,1377.1 911.1,1376.0 911.7,1375.3 912.3,1374.4 912.9,1373.3 913.5,1372.1 914.0,1371.0 914.6,1370.1 915.1,1368.9 915.6,1367.8 916.1,1366.9 916.5,1365.5 917.0,1363.9 917.4,1363.1 917.8,1362.4 918.1,1361.3 918.5,1360.0 918.8,1358.9 919.2,1357.9 919.5,1356.6 919.8,1355.5 920.1,1354.4 920.4,1353.1 920.7,1351.7 921.0,1350.5 921.3,1349.3 921.6,1348.3 921.8,1347.3 922.1,1346.4 922.4,1345.4 922.7,1344.3 922.9,1342.9 923.2,1341.4 923.4,1340.0 923.7,1338.6 923.9,1337.1 924.2,1335.7 924.4,1334.6 924.7,1333.5 924.9,1332.1 925.1,1330.7 925.3,1329.4 925.5,1328.1 925.8,1327.0 926.0,1325.6 926.2,1324.1 926.4,1323.1 926.7,1322.2 926.9,1321.6 927.1,1321.1 927.4,1320.6 927.6,1319.6 927.8,1317.9 928.1,1316.7 928.3,1315.7 928.5,1314.3 928.7,1312.8 928.9,1311.7 929.2,1310.8 929.4,1309.5 929.7,1308.1 930.0,1307.1 930.3,1306.2 930.6,1305.1 931.0,1303.9 931.5,1302.8 932.1,1301.7 932.7,1300.7 933.4,1300.0 934.1,1298.9 934.7,1297.7 935.2,1296.4 935.6,1295.4 935.9,1294.5 936.2,1293.3 936.5,1292.0 936.8,1290.6 937.0,1289.4 937.2,1288.5 937.4,1287.6 937.6,1286.3 937.9,1285.0 938.1,1283.7 938.3,1282.6 938.4,1281.3 938.6,1279.9 938.8,1278.4 939.0,1276.9 939.2,1276.1 939.3,1275.1 939.5,1273.9 939.6,1272.6 939.8,1271.7 940.0,1270.4 940.1,1269.2 940.3,1268.2 940.4,1267.2 940.6,1265.6 940.7,1264.1 940.9,1262.7 941.0,1261.7 941.2,1260.6 941.3,1259.7 941.5,1258.7 941.6,1257.4 941.8,1256.2 942.0,1255.1 942.1,1254.0 942.3,1252.9 942.5,1251.9 942.6,1250.8 942.8,1249.9 943.0,1248.7 943.1,1247.5 943.3,1246.2 943.5,1244.9 943.6,1243.2 943.8,1241.7 943.9,1240.7 944.1,1239.9 944.3,1239.0 944.4,1237.7 944.6,1236.2 944.7,1234.6 944.9,1233.2 945.1,1231.7 945.2,1230.4 945.4,1229.6 945.5,1228.7 945.7,1227.5 945.8,1226.0 946.0,1224.8 946.1,1223.7 946.3,1222.7 946.4,1221.8 946.6,1220.5 946.7,1219.0 946.9,1217.9 947.0,1216.8 947.2,1215.4 947.3,1214.1 947.4,1213.1 947.6,1212.2 947.7,1211.3 947.9,1210.3 948.0,1209.3 948.1,1208.3 948.3,1207.2 948.4,1205.6 948.5,1204.1 948.7,1202.9 948.8,1201.8 949.0,1200.7 949.1,1199.5 949.2,1198.3 949.4,1197.2 949.5,1196.3 949.6,1195.0 949.8,1193.5 949.9,1192.2 950.0,1190.9 950.2,1189.1 950.3,1187.5 950.5,1186.2 950.6,1185.2 950.7,1184.1 950.9,1183.5 951.0,1182.8 951.2,1181.7 951.3,1180.7 951.5,1179.7 951.6,1178.5 951.7,1177.0 951.9,1175.9 952.0,1174.7 952.2,1173.5 952.3,1172.2 952.4,1170.9 952.6,1169.5 952.7,1168.4 952.9,1167.2 953.0,1165.9 953.1,1164.6 953.3,1163.8 953.4,1162.5 953.6,1161.3 953.7,1159.8 953.8,1158.6 954.0,1157.4 954.1,1156.3 954.2,1155.4 954.3,1154.3 954.5,1153.0 954.6,1151.7 954.7,1150.7 954.9,1149.9 955.0,1148.8 955.1,1147.5 955.2,1146.3 955.3,1145.0 955.5,1143.6 955.6,1141.9 955.7,1140.2 955.8,1138.8 955.9,1137.8 956.1,1136.8 956.2,1135.9 956.3,1134.8 956.4,1134.1 956.5,1133.2 956.6,1132.2 956.7,1130.6 956.9,1129.3 957.0,1128.0 957.1,1126.7 957.2,1125.3 957.3,1124.2 957.4,1122.8 957.5,1121.4 957.7,1119.9 957.8,1118.8 957.9,1117.6 958.0,1116.4 958.1,1115.4 958.2,1114.2 958.4,1113.2 958.5,1112.0 958.6,1111.1 958.7,1110.0 958.8,1108.4 958.9,1106.9 959.0,1105.6 959.2,1104.9 959.3,1103.8 959.4,1102.6 959.5,1101.0 959.6,1099.9 959.7,1099.1 959.8,1098.0 960.0,1096.5 960.1,1094.9 960.2,1093.6 960.3,1092.7 960.4,1091.7 960.5,1090.5 960.6,1089.2 960.7,1087.8 960.8,1086.6 960.9,1085.4 961.0,1084.2 961.1,1083.1 961.2,1082.3 961.3,1081.3 961.4,1080.0 961.5,1078.6 961.6,1077.0 961.7,1076.0 961.8,1075.0 961.9,1073.9 962.0,1072.6 962.1,1071.6 962.2,1070.5 962.3,1069.0 962.4,1067.4 962.5,1066.2 962.5,1065.2 962.6,1064.4 962.7,1062.9 962.8,1061.6 962.9,1060.4 963.0,1059.5 963.1,1058.2 963.2,1057.1 963.3,1055.9 963.4,1054.5 963.4,1052.8 963.5,1051.6 963.6,1050.9 963.7,1049.9 963.8,1048.7 963.9,1047.7 963.9,1047.0 964.0,1046.0 964.1,1044.6 964.2,1043.2 964.3,1041.6 964.3,1040.1 964.4,1038.8 964.5,1037.6 964.6,1036.1 964.7,1034.7 964.7,1033.7 964.8,1033.0 964.9,1031.7 964.9,1030.7 965.0,1029.2 965.1,1028.1 965.2,1026.6 965.2,1025.8 965.3,1024.5 965.4,1023.1 965.4,1022.0 965.5,1021.0 965.6,1019.9 965.6,1018.7 965.7,1017.8 965.8,1016.9 965.8,1015.5 965.9,1014.5 965.9,1013.6 966.0,1012.8 966.1,1011.5 966.1,1010.0 966.2,1008.4 966.2,1006.9 966.3,1005.4 966.4,1004.3 966.4,1003.3 966.5,1002.3 966.5,1001.3 966.6,1000.5 966.6,999.7 966.7,998.2 966.7,996.6 966.8,995.0 966.9,993.5 966.9,992.0 967.0,990.7 967.0,989.3 967.1,987.8 967.1,986.7 967.2,986.0 967.2,985.2 967.3,984.1 967.3,982.9 967.4,981.8 967.4,980.7 967.5,979.7 967.5,978.9 967.6,977.8 967.6,976.0 967.7,974.3 967.7,972.8 967.8,971.7 967.8,970.4 967.9,969.2 967.9,968.1 968.0,966.9 968.0,965.6 968.1,964.3 968.1,963.1 968.2,962.0 968.2,960.9 968.3,959.7 968.3,958.6 968.4,957.6 968.4,956.4 968.5,955.0 968.5,953.7 968.5,952.7 968.6,951.9 968.6,950.9 968.7,949.5 968.7,948.1 968.8,946.7 968.8,945.7 968.9,944.3 968.9,943.0 969.0,941.8 969.0,941.1 969.1,940.1 969.1,938.5 969.2,937.2 969.2,936.2 969.3,935.0 969.3,933.8 969.4,932.8 969.4,932.0 969.4,931.2 969.5,929.8 969.5,928.7 969.6,927.2 969.6,925.7 969.7,923.8 969.7,922.3 969.8,921.1 969.8,919.9 969.9,918.6 969.9,917.4 969.9,916.3 970.0,915.1 970.0,913.6 970.1,912.3 970.1,911.0 970.2,910.1 970.2,908.9 970.2,907.6 970.3,906.6 970.3,905.9 970.3,905.2 970.4,904.4 970.4,903.4 970.4,902.1 970.5,900.3 970.5,898.7 970.5,897.2 970.6,895.7 970.6,894.3 970.6,893.0 970.7,892.1 970.7,891.1 970.7,889.9 970.7,888.6 970.8,887.7 970.8,886.8 970.8,886.1 970.8,885.1 970.9,884.2 970.9,883.0 970.9,881.9 970.9,881.1 970.9,879.6 971.0,878.0 971.0,876.6 971.0,875.3 971.0,873.8 971.0,872.3 971.1,870.9 971.1,869.6 971.1,868.1 971.1,867.0 971.1,865.8 971.1,864.8 971.2,863.7 971.2,862.7 971.2,861.3 971.2,860.2 971.2,859.8" stroke="#0000dc" stroke-width="3.7"/>
</g>
<rect x="137.4" y="917.1" width="191.8" height="91.7" fill="#fff" stroke="#565656" stroke-width="1.5"/>
<path d="M145.20000000000002,934.9h16M176.3,934.9h24.3" stroke="#fa0505" stroke-width="3.9" fill="none"/>
<path d="M145.20000000000002,963.0H205.8" stroke="#00ea00" stroke-width="4.6" fill="none"/>
<path d="M145.20000000000002,991.0H205.8" stroke="#0000dc" stroke-width="3.7" fill="none"/>
<g font-size="23.7" fill="#2e2e2e">
<text x="213.0" y="942.9">Water</text>
<text x="213.0" y="971.0">Smooth PP</text>
<text x="213.0" y="999.0">Rough PP</text>
</g>
<path d="M520.2,1279.2L521.0,1310.8" stroke="#1c1c1c" stroke-width="1.45" fill="none"/><path d="M521.5,1329.4L510.1,1301.9L521.0,1309.8L531.5,1301.3Z" fill="#000"/>
<path d="M580.2,1263.3L581.0,1294.6" stroke="#1c1c1c" stroke-width="1.45" fill="none"/><path d="M581.5,1312.4L570.1,1285.7L581.0,1293.6L591.5,1285.1Z" fill="#000"/>
<path d="M620.2,1254.7L621.0,1286.0" stroke="#1c1c1c" stroke-width="1.45" fill="none"/><path d="M621.5,1303.8L610.1,1277.1L621.0,1285.0L631.5,1276.5Z" fill="#000"/>
<g fill="#111"><text transform="translate(491.4,1713.3) scale(0.84,1)" font-size="34.8">(</text><text transform="translate(501.7,1713.7) scale(1.0,1)" font-size="36" font-weight="bold">b</text><text transform="translate(522.6,1713.3) scale(0.84,1)" font-size="34.8">)</text></g>
</svg>
</body>
</html>
